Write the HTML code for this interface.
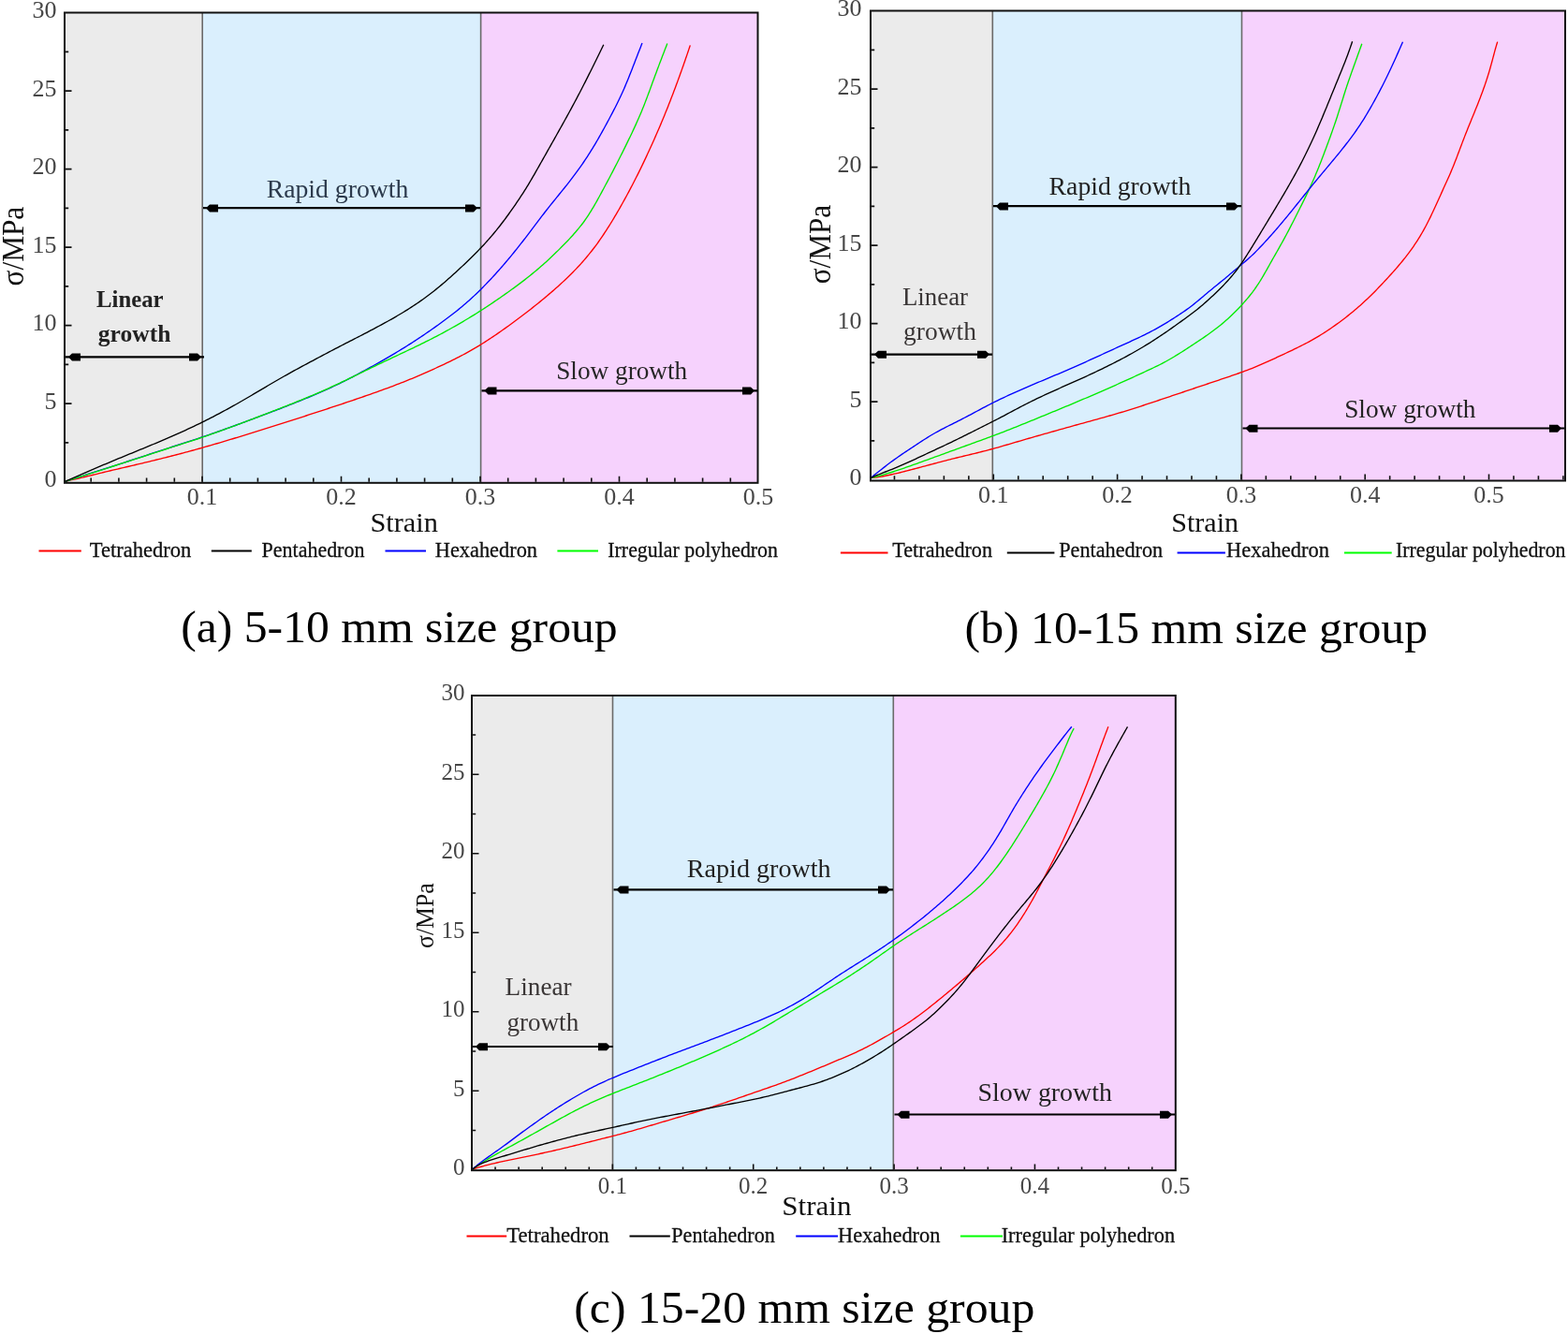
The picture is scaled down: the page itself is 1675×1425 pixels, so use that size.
<!DOCTYPE html>
<html><head><meta charset="utf-8"><title>Stress-strain curves by size group</title>
<style>html,body{margin:0;padding:0;background:#fff;}svg{display:block;}text{font-family:"Liberation Serif", "Times New Roman", serif;}</style>
</head><body>
<svg width="1675" height="1425" viewBox="0 0 1675 1425">
<rect width="1675" height="1425" fill="#fff"/>
<g>
<rect x="69" y="13.5" width="147.2" height="502.3" fill="#ebebeb"/>
<rect x="216.2" y="13.5" width="297.4" height="502.3" fill="#daeffd"/>
<rect x="513.6" y="13.5" width="295.9" height="502.3" fill="#f6d2fd"/>
<line x1="216.2" y1="13.5" x2="216.2" y2="515.8" stroke="#6a6a6a" stroke-width="1.6"/>
<line x1="513.6" y1="13.5" x2="513.6" y2="515.8" stroke="#6a6a6a" stroke-width="1.6"/>
<path d="M97.2,514.8v-4.2M126.9,514.8v-4.2M156.6,514.8v-4.2M186.3,514.8v-4.2M216,514.8v-6M245.7,514.8v-4.2M275.4,514.8v-4.2M305.1,514.8v-4.2M334.8,514.8v-4.2M364.5,514.8v-6M394.2,514.8v-4.2M423.9,514.8v-4.2M453.6,514.8v-4.2M483.3,514.8v-4.2M513,514.8v-6M542.7,514.8v-4.2M572.4,514.8v-4.2M602.1,514.8v-4.2M631.8,514.8v-4.2M661.5,514.8v-6M691.2,514.8v-4.2M720.9,514.8v-4.2M750.6,514.8v-4.2M780.3,514.8v-4.2M70,472.85h3.2M70,431.1h6.5M70,389.35h3.2M70,347.6h6.5M70,305.85h3.2M70,264.1h6.5M70,222.35h3.2M70,180.6h6.5M70,138.85h3.2M70,97.1h6.5M70,55.35h3.2" stroke="#111" stroke-width="1.6" fill="none"/>
<path d="M69.5,514.3L71.94,513.76L74.37,513.21L76.81,512.66L79.25,512.1L81.68,511.54L84.11,510.98L86.54,510.41L88.97,509.83L91.4,509.25L93.83,508.66L96.26,508.07L98.68,507.48L101.11,506.88L103.54,506.29L105.96,505.71L108.39,505.12L110.82,504.53L113.25,503.95L115.68,503.36L118.1,502.78L120.53,502.2L122.96,501.62L125.39,501.04L127.83,500.48L130.26,499.91L132.69,499.35L135.12,498.78L137.56,498.22L139.99,497.65L142.42,497.08L144.85,496.51L147.28,495.94L149.71,495.36L152.14,494.79L154.57,494.21L157,493.63L159.43,493.04L161.86,492.45L164.28,491.86L166.71,491.26L169.13,490.66L171.56,490.06L173.98,489.45L176.4,488.84L178.82,488.23L181.24,487.61L183.66,486.99L186.08,486.37L188.5,485.74L190.92,485.12L193.33,484.48L195.75,483.85L198.16,483.2L200.57,482.56L202.98,481.9L205.39,481.24L207.8,480.58L210.21,479.91L212.61,479.24L215.02,478.56L217.42,477.89L219.83,477.2L222.23,476.51L224.63,475.82L227.03,475.13L229.42,474.43L231.82,473.73L234.22,473.03L236.61,472.32L239.01,471.61L241.4,470.89L243.79,470.17L246.18,469.45L248.57,468.73L250.96,468L253.35,467.28L255.74,466.55L258.13,465.82L260.52,465.09L262.91,464.36L265.29,463.62L267.68,462.89L270.07,462.15L272.45,461.41L274.84,460.66L277.22,459.92L279.6,459.17L281.99,458.43L284.37,457.68L286.75,456.92L289.13,456.17L291.51,455.42L293.9,454.66L296.28,453.91L298.66,453.15L301.04,452.39L303.42,451.63L305.79,450.88L308.17,450.12L310.55,449.35L312.93,448.59L315.31,447.83L317.69,447.07L320.07,446.3L322.44,445.54L324.82,444.77L327.2,444L329.57,443.23L331.95,442.46L334.32,441.69L336.7,440.92L339.07,440.14L341.45,439.37L343.82,438.59L346.19,437.81L348.57,437.03L350.94,436.25L353.31,435.46L355.68,434.68L358.05,433.89L360.42,433.1L362.79,432.32L365.16,431.53L367.53,430.74L369.9,429.94L372.27,429.15L374.63,428.35L377,427.55L379.37,426.75L381.73,425.94L384.09,425.13L386.45,424.32L388.81,423.5L391.17,422.68L393.53,421.86L395.88,421.03L398.24,420.19L400.59,419.36L402.95,418.52L405.3,417.68L407.65,416.83L410,415.98L412.34,415.12L414.69,414.26L417.03,413.39L419.37,412.51L421.7,411.63L424.03,410.73L426.36,409.83L428.69,408.93L431.01,408.01L433.33,407.09L435.65,406.15L437.97,405.21L440.28,404.27L442.59,403.31L444.89,402.35L447.19,401.38L449.49,400.4L451.78,399.4L454.07,398.4L456.35,397.39L458.63,396.37L460.91,395.34L463.18,394.31L465.45,393.26L467.72,392.21L469.98,391.16L472.24,390.1L474.5,389.03L476.76,387.96L479.01,386.88L481.25,385.78L483.5,384.68L485.73,383.56L487.96,382.43L490.18,381.29L492.39,380.14L494.61,378.98L496.81,377.81L499.01,376.62L501.2,375.42L503.38,374.2L505.55,372.96L507.7,371.7L509.84,370.42L511.98,369.12L514.1,367.8L516.21,366.47L518.32,365.12L520.41,363.76L522.5,362.39L524.59,361.01L526.66,359.62L528.73,358.23L530.8,356.82L532.86,355.41L534.91,353.98L536.95,352.55L538.99,351.1L541.02,349.65L543.05,348.19L545.07,346.72L547.09,345.24L549.1,343.76L551.1,342.27L553.11,340.78L555.1,339.28L557.1,337.78L559.09,336.27L561.07,334.75L563.06,333.23L565.03,331.7L567,330.17L568.97,328.63L570.93,327.08L572.88,325.52L574.83,323.95L576.77,322.38L578.7,320.8L580.62,319.21L582.54,317.61L584.45,316L586.36,314.39L588.26,312.76L590.15,311.13L592.04,309.49L593.92,307.84L595.78,306.17L597.64,304.5L599.48,302.82L601.31,301.12L603.12,299.41L604.93,297.69L606.73,295.96L608.52,294.21L610.3,292.45L612.07,290.68L613.82,288.89L615.55,287.1L617.27,285.28L618.97,283.45L620.65,281.61L622.3,279.75L623.95,277.87L625.58,275.97L627.19,274.06L628.78,272.13L630.36,270.19L631.92,268.23L633.46,266.27L634.97,264.28L636.47,262.29L637.94,260.28L639.4,258.25L640.84,256.21L642.26,254.15L643.66,252.08L645.05,250L646.43,247.92L647.8,245.83L649.15,243.73L650.49,241.62L651.81,239.5L653.12,237.38L654.42,235.24L655.7,233.1L656.98,230.95L658.25,228.8L659.51,226.64L660.76,224.48L662.01,222.32L663.24,220.15L664.47,217.97L665.69,215.79L666.9,213.6L668.1,211.41L669.3,209.22L670.49,207.02L671.67,204.83L672.84,202.62L674.01,200.41L675.17,198.2L676.32,195.98L677.47,193.76L678.6,191.54L679.74,189.31L680.86,187.08L681.97,184.85L683.08,182.61L684.18,180.37L685.27,178.12L686.36,175.87L687.44,173.62L688.51,171.36L689.58,169.11L690.64,166.84L691.7,164.58L692.75,162.32L693.79,160.05L694.83,157.78L695.86,155.5L696.89,153.22L697.91,150.94L698.92,148.66L699.93,146.38L700.94,144.09L701.94,141.8L702.93,139.51L703.92,137.22L704.9,134.92L705.88,132.62L706.85,130.32L707.81,128.01L708.77,125.71L709.71,123.4L710.66,121.08L711.59,118.77L712.52,116.45L713.44,114.13L714.36,111.8L715.27,109.48L716.18,107.15L717.08,104.83L717.98,102.5L718.88,100.16L719.77,97.83L720.65,95.49L721.53,93.15L722.4,90.81L723.27,88.47L724.13,86.13L724.99,83.78L725.84,81.43L726.69,79.09L727.53,76.73L728.37,74.38L729.2,72.03L730.03,69.67L730.86,67.31L731.68,64.96L732.49,62.59L733.31,60.23L734.11,57.87L734.92,55.5L735.72,53.14L736.51,50.77L737.3,48.4" stroke="#ff0000" stroke-width="1.35" fill="none" stroke-linejoin="round"/>
<path d="M69.5,514.3L71.88,513.55L74.26,512.8L76.63,512.05L79.01,511.29L81.39,510.54L83.77,509.78L86.14,509.02L88.52,508.27L90.89,507.5L93.27,506.74L95.64,505.98L98.02,505.21L100.39,504.45L102.76,503.69L105.14,502.93L107.51,502.16L109.89,501.4L112.26,500.64L114.64,499.88L117.01,499.12L119.39,498.36L121.76,497.59L124.14,496.83L126.51,496.07L128.89,495.31L131.26,494.54L133.63,493.78L136.01,493.01L138.38,492.25L140.75,491.48L143.12,490.71L145.5,489.93L147.87,489.15L150.23,488.37L152.6,487.59L154.97,486.81L157.34,486.03L159.71,485.25L162.08,484.47L164.45,483.69L166.82,482.92L169.19,482.14L171.56,481.36L173.93,480.58L176.3,479.81L178.67,479.04L181.04,478.27L183.42,477.51L185.79,476.75L188.17,476L190.55,475.24L192.92,474.49L195.3,473.73L197.68,472.97L200.05,472.2L202.42,471.43L204.79,470.65L207.16,469.87L209.52,469.08L211.89,468.3L214.26,467.51L216.62,466.71L218.98,465.91L221.34,465.11L223.7,464.3L226.06,463.48L228.41,462.67L230.77,461.84L233.12,461.01L235.47,460.18L237.82,459.34L240.17,458.5L242.51,457.65L244.86,456.81L247.2,455.96L249.55,455.1L251.89,454.25L254.23,453.39L256.57,452.53L258.91,451.67L261.25,450.81L263.59,449.94L265.93,449.08L268.27,448.21L270.61,447.34L272.95,446.48L275.29,445.6L277.62,444.73L279.96,443.86L282.29,442.98L284.63,442.1L286.96,441.22L289.29,440.33L291.62,439.44L293.95,438.55L296.28,437.65L298.6,436.75L300.93,435.85L303.25,434.94L305.57,434.04L307.89,433.13L310.22,432.22L312.54,431.3L314.86,430.39L317.18,429.47L319.5,428.54L321.81,427.62L324.13,426.68L326.44,425.74L328.74,424.79L331.05,423.84L333.35,422.88L335.64,421.91L337.93,420.93L340.22,419.93L342.5,418.94L344.79,417.93L347.06,416.91L349.34,415.88L351.61,414.85L353.88,413.8L356.14,412.75L358.39,411.69L360.65,410.62L362.9,409.54L365.14,408.45L367.37,407.35L369.6,406.24L371.83,405.11L374.04,403.97L376.26,402.81L378.46,401.65L380.67,400.48L382.87,399.31L385.07,398.13L387.26,396.95L389.46,395.76L391.65,394.57L393.84,393.38L396.03,392.18L398.21,390.97L400.39,389.76L402.56,388.54L404.74,387.31L406.91,386.08L409.07,384.84L411.23,383.6L413.39,382.35L415.55,381.1L417.7,379.84L419.85,378.58L422,377.31L424.14,376.03L426.28,374.74L428.41,373.44L430.53,372.14L432.65,370.82L434.76,369.5L436.87,368.16L438.97,366.82L441.06,365.46L443.16,364.1L445.24,362.74L447.32,361.36L449.4,359.98L451.47,358.59L453.53,357.19L455.6,355.79L457.65,354.38L459.71,352.96L461.75,351.53L463.79,350.1L465.83,348.66L467.86,347.21L469.88,345.75L471.9,344.28L473.9,342.8L475.91,341.32L477.91,339.82L479.9,338.32L481.89,336.81L483.86,335.29L485.83,333.75L487.79,332.2L489.73,330.64L491.65,329.06L493.57,327.46L495.47,325.85L497.36,324.22L499.24,322.58L501.11,320.92L502.96,319.25L504.8,317.57L506.63,315.87L508.44,314.17L510.24,312.44L512.03,310.7L513.8,308.94L515.56,307.18L517.31,305.39L519.04,303.6L520.77,301.8L522.49,299.99L524.2,298.18L525.9,296.35L527.59,294.52L529.27,292.68L530.94,290.82L532.6,288.96L534.25,287.09L535.9,285.22L537.53,283.33L539.16,281.44L540.78,279.55L542.39,277.64L543.99,275.73L545.58,273.81L547.16,271.88L548.74,269.95L550.3,268.01L551.87,266.06L553.42,264.11L554.97,262.16L556.52,260.2L558.06,258.24L559.59,256.27L561.11,254.3L562.62,252.31L564.13,250.33L565.64,248.34L567.14,246.35L568.64,244.36L570.15,242.37L571.65,240.38L573.17,238.4L574.68,236.42L576.19,234.43L577.7,232.45L579.21,230.46L580.73,228.48L582.25,226.5L583.78,224.53L585.31,222.57L586.86,220.61L588.42,218.66L589.98,216.72L591.55,214.79L593.13,212.85L594.7,210.92L596.27,208.98L597.84,207.04L599.4,205.09L600.97,203.16L602.54,201.22L604.11,199.27L605.67,197.33L607.21,195.37L608.75,193.41L610.27,191.43L611.77,189.44L613.27,187.45L614.76,185.45L616.24,183.44L617.7,181.42L619.16,179.39L620.6,177.35L622.02,175.3L623.42,173.25L624.82,171.18L626.19,169.1L627.56,167.01L628.91,164.92L630.25,162.81L631.58,160.7L632.9,158.58L634.2,156.45L635.49,154.32L636.76,152.18L638.02,150.02L639.26,147.86L640.49,145.69L641.72,143.52L642.93,141.34L644.15,139.16L645.35,136.98L646.55,134.79L647.74,132.6L648.92,130.4L650.1,128.2L651.27,126L652.43,123.79L653.59,121.59L654.75,119.38L655.91,117.17L657.05,114.95L658.18,112.73L659.3,110.5L660.39,108.26L661.47,106.01L662.54,103.76L663.6,101.5L664.64,99.23L665.67,96.96L666.68,94.68L667.67,92.39L668.64,90.09L669.6,87.79L670.54,85.48L671.48,83.17L672.41,80.85L673.33,78.54L674.25,76.22L675.16,73.9L676.06,71.57L676.96,69.24L677.86,66.92L678.75,64.59L679.66,62.26L680.56,59.94L681.47,57.62L682.37,55.29L683.28,52.97L684.18,50.65L685.09,48.32L686,46" stroke="#0000ff" stroke-width="1.35" fill="none" stroke-linejoin="round"/>
<path d="M69.5,514.3L71.88,513.57L74.27,512.83L76.65,512.09L79.03,511.35L81.41,510.61L83.79,509.86L86.17,509.11L88.55,508.36L90.93,507.61L93.31,506.85L95.68,506.1L98.06,505.34L100.43,504.58L102.81,503.82L105.19,503.06L107.56,502.3L109.94,501.55L112.32,500.79L114.69,500.03L117.07,499.27L119.44,498.51L121.82,497.75L124.19,496.99L126.57,496.23L128.95,495.47L131.32,494.71L133.7,493.95L136.07,493.18L138.44,492.42L140.82,491.65L143.19,490.88L145.56,490.11L147.93,489.33L150.3,488.55L152.67,487.77L155.04,486.99L157.41,486.21L159.78,485.43L162.15,484.66L164.52,483.88L166.89,483.1L169.26,482.33L171.63,481.55L174,480.78L176.38,480.01L178.75,479.24L181.12,478.48L183.5,477.72L185.88,476.96L188.26,476.21L190.63,475.46L193.01,474.71L195.39,473.96L197.77,473.19L200.14,472.42L202.51,471.65L204.88,470.86L207.24,470.08L209.61,469.29L211.98,468.5L214.34,467.7L216.7,466.9L219.06,466.09L221.42,465.28L223.78,464.46L226.13,463.64L228.48,462.81L230.83,461.98L233.18,461.14L235.53,460.3L237.87,459.45L240.22,458.59L242.56,457.74L244.9,456.87L247.24,456.01L249.58,455.14L251.92,454.27L254.26,453.4L256.59,452.53L258.93,451.66L261.27,450.78L263.6,449.91L265.94,449.03L268.27,448.15L270.6,447.27L272.94,446.38L275.27,445.5L277.6,444.61L279.93,443.72L282.26,442.83L284.59,441.93L286.92,441.04L289.24,440.14L291.57,439.24L293.89,438.33L296.22,437.42L298.54,436.51L300.86,435.6L303.18,434.68L305.5,433.77L307.82,432.85L310.14,431.93L312.45,431.01L314.77,430.08L317.09,429.15L319.4,428.22L321.71,427.28L324.02,426.34L326.33,425.39L328.64,424.44L330.94,423.48L333.24,422.52L335.53,421.54L337.82,420.56L340.11,419.57L342.4,418.57L344.68,417.57L346.96,416.55L349.24,415.53L351.51,414.51L353.78,413.47L356.05,412.43L358.32,411.39L360.58,410.34L362.84,409.29L365.09,408.22L367.34,407.15L369.59,406.06L371.83,404.97L374.07,403.88L376.32,402.78L378.56,401.68L380.8,400.59L383.04,399.5L385.29,398.41L387.53,397.32L389.77,396.23L392.01,395.14L394.26,394.04L396.5,392.95L398.74,391.86L400.99,390.78L403.24,389.69L405.48,388.62L407.74,387.54L409.99,386.47L412.24,385.4L414.49,384.33L416.75,383.27L419,382.2L421.26,381.13L423.51,380.07L425.77,379L428.02,377.93L430.28,376.87L432.54,375.8L434.79,374.74L437.05,373.68L439.3,372.61L441.56,371.54L443.81,370.46L446.05,369.38L448.29,368.28L450.53,367.18L452.77,366.08L455,364.97L457.23,363.85L459.46,362.73L461.68,361.6L463.9,360.46L466.12,359.31L468.33,358.15L470.53,356.98L472.73,355.81L474.92,354.62L477.11,353.42L479.29,352.22L481.47,351L483.65,349.78L485.82,348.55L487.99,347.32L490.15,346.07L492.31,344.82L494.46,343.56L496.6,342.29L498.75,341.01L500.88,339.72L503.01,338.43L505.14,337.12L507.26,335.81L509.37,334.48L511.48,333.15L513.58,331.8L515.68,330.45L517.77,329.09L519.85,327.72L521.93,326.35L524.01,324.97L526.08,323.58L528.15,322.18L530.21,320.78L532.27,319.37L534.32,317.95L536.37,316.53L538.41,315.09L540.45,313.65L542.48,312.21L544.51,310.76L546.54,309.3L548.56,307.84L550.58,306.37L552.59,304.89L554.59,303.4L556.58,301.9L558.57,300.39L560.54,298.87L562.5,297.33L564.45,295.78L566.4,294.22L568.34,292.64L570.27,291.06L572.19,289.47L574.1,287.86L575.99,286.24L577.88,284.61L579.75,282.96L581.61,281.31L583.46,279.64L585.3,277.95L587.13,276.25L588.95,274.54L590.76,272.82L592.56,271.09L594.35,269.35L596.13,267.61L597.9,265.86L599.67,264.09L601.43,262.33L603.18,260.54L604.92,258.75L606.65,256.95L608.35,255.13L610.04,253.29L611.71,251.44L613.35,249.57L614.99,247.69L616.62,245.79L618.22,243.88L619.81,241.94L621.36,239.98L622.88,238.01L624.35,236.01L625.79,233.98L627.19,231.92L628.56,229.83L629.9,227.73L631.22,225.6L632.53,223.47L633.81,221.33L635.08,219.19L636.32,217.03L637.55,214.85L638.75,212.67L639.95,210.48L641.13,208.28L642.32,206.08L643.5,203.89L644.69,201.7L645.88,199.5L647.06,197.3L648.23,195.1L649.41,192.9L650.57,190.7L651.74,188.49L652.9,186.28L654.05,184.07L655.2,181.86L656.35,179.65L657.49,177.43L658.63,175.21L659.77,172.99L660.9,170.77L662.03,168.54L663.15,166.31L664.27,164.08L665.38,161.85L666.49,159.62L667.6,157.38L668.7,155.15L669.79,152.9L670.88,150.66L671.97,148.41L673.05,146.17L674.13,143.92L675.21,141.67L676.28,139.41L677.34,137.15L678.38,134.89L679.41,132.62L680.43,130.34L681.44,128.06L682.44,125.78L683.43,123.49L684.4,121.19L685.37,118.89L686.32,116.58L687.26,114.27L688.18,111.96L689.08,109.63L689.98,107.3L690.86,104.97L691.74,102.63L692.61,100.3L693.48,97.96L694.35,95.62L695.21,93.28L696.06,90.94L696.91,88.59L697.76,86.25L698.62,83.9L699.49,81.57L700.36,79.23L701.23,76.89L702.1,74.55L702.98,72.22L703.85,69.88L704.74,67.55L705.62,65.22L706.51,62.89L707.4,60.56L708.29,58.23L709.19,55.9L710.09,53.57L710.99,51.25L711.89,48.92L712.8,46.6" stroke="#00ec00" stroke-width="1.35" fill="none" stroke-linejoin="round"/>
<path d="M69.5,514.3L71.79,513.3L74.08,512.3L76.37,511.3L78.66,510.3L80.95,509.31L83.24,508.31L85.53,507.32L87.82,506.33L90.12,505.34L92.41,504.35L94.7,503.36L97,502.37L99.29,501.38L101.59,500.4L103.89,499.42L106.18,498.44L108.48,497.47L110.78,496.49L113.08,495.52L115.39,494.55L117.69,493.58L119.99,492.62L122.3,491.66L124.6,490.69L126.91,489.74L129.22,488.78L131.53,487.83L133.84,486.88L136.15,485.93L138.46,484.98L140.77,484.03L143.08,483.08L145.39,482.13L147.7,481.18L150.01,480.23L152.32,479.28L154.63,478.33L156.94,477.38L159.25,476.43L161.55,475.47L163.86,474.5L166.16,473.54L168.46,472.57L170.77,471.6L173.07,470.63L175.37,469.65L177.66,468.67L179.95,467.67L182.24,466.68L184.53,465.67L186.82,464.66L189.1,463.65L191.38,462.63L193.66,461.6L195.93,460.57L198.2,459.53L200.46,458.48L202.73,457.42L204.99,456.35L207.24,455.28L209.49,454.2L211.74,453.11L213.99,452.02L216.23,450.91L218.47,449.8L220.7,448.68L222.93,447.56L225.15,446.42L227.37,445.28L229.59,444.13L231.81,442.97L234.02,441.81L236.22,440.63L238.43,439.45L240.62,438.27L242.82,437.08L245.01,435.88L247.2,434.67L249.38,433.45L251.55,432.23L253.72,430.99L255.89,429.75L258.05,428.5L260.21,427.25L262.37,425.99L264.53,424.73L266.69,423.47L268.84,422.21L271,420.95L273.16,419.69L275.31,418.42L277.46,417.15L279.61,415.87L281.75,414.6L283.9,413.32L286.05,412.04L288.19,410.77L290.35,409.5L292.5,408.23L294.66,406.98L296.83,405.74L298.99,404.5L301.16,403.26L303.34,402.03L305.52,400.81L307.69,399.58L309.88,398.37L312.06,397.15L314.24,395.94L316.43,394.74L318.62,393.54L320.82,392.34L323.01,391.16L325.21,389.97L327.42,388.8L329.62,387.62L331.83,386.45L334.04,385.28L336.24,384.11L338.45,382.94L340.66,381.77L342.86,380.6L345.07,379.43L347.28,378.26L349.49,377.1L351.69,375.93L353.91,374.77L356.12,373.61L358.33,372.45L360.55,371.3L362.76,370.15L364.98,369L367.2,367.85L369.42,366.71L371.64,365.56L373.86,364.42L376.08,363.28L378.31,362.14L380.53,361.01L382.76,359.87L384.98,358.73L387.2,357.59L389.42,356.44L391.63,355.28L393.85,354.13L396.06,352.97L398.27,351.81L400.48,350.64L402.68,349.47L404.88,348.28L407.08,347.09L409.27,345.9L411.46,344.7L413.65,343.49L415.83,342.27L418.01,341.04L420.17,339.8L422.34,338.55L424.49,337.29L426.65,336.03L428.8,334.75L430.94,333.46L433.07,332.15L435.19,330.84L437.29,329.5L439.4,328.15L441.49,326.78L443.57,325.4L445.65,324.01L447.71,322.6L449.76,321.17L451.8,319.73L453.82,318.27L455.83,316.79L457.83,315.29L459.82,313.77L461.79,312.24L463.76,310.69L465.71,309.13L467.65,307.56L469.58,305.98L471.5,304.39L473.41,302.77L475.3,301.14L477.19,299.5L479.06,297.85L480.93,296.19L482.79,294.53L484.65,292.86L486.5,291.18L488.34,289.49L490.17,287.79L492,286.09L493.82,284.38L495.63,282.66L497.44,280.93L499.23,279.2L501.03,277.46L502.82,275.72L504.6,273.97L506.38,272.21L508.14,270.44L509.89,268.66L511.63,266.87L513.36,265.06L515.08,263.25L516.79,261.43L518.48,259.59L520.16,257.74L521.82,255.88L523.46,254L525.09,252.1L526.71,250.2L528.31,248.28L529.9,246.35L531.47,244.41L533.03,242.46L534.57,240.5L536.1,238.52L537.61,236.53L539.11,234.53L540.6,232.52L542.07,230.51L543.54,228.48L544.99,226.46L546.44,224.42L547.87,222.37L549.3,220.32L550.71,218.26L552.12,216.19L553.51,214.12L554.9,212.04L556.27,209.96L557.64,207.87L559,205.77L560.35,203.67L561.68,201.56L563,199.44L564.3,197.31L565.59,195.16L566.86,193.01L568.12,190.86L569.38,188.7L570.63,186.54L571.87,184.37L573.11,182.2L574.34,180.03L575.57,177.85L576.79,175.68L578.02,173.5L579.25,171.33L580.48,169.15L581.71,166.98L582.94,164.8L584.17,162.63L585.4,160.45L586.62,158.28L587.85,156.1L589.08,153.93L590.3,151.75L591.53,149.57L592.75,147.4L593.98,145.22L595.2,143.04L596.42,140.87L597.65,138.69L598.86,136.51L600.08,134.33L601.3,132.14L602.51,129.96L603.72,127.77L604.93,125.59L606.13,123.4L607.34,121.21L608.54,119.02L609.74,116.83L610.93,114.63L612.11,112.44L613.29,110.23L614.47,108.03L615.64,105.82L616.8,103.61L617.96,101.4L619.12,99.19L620.27,96.97L621.42,94.75L622.57,92.53L623.7,90.31L624.84,88.08L625.96,85.86L627.09,83.63L628.21,81.39L629.33,79.16L630.45,76.93L631.57,74.69L632.68,72.46L633.79,70.22L634.9,67.98L636,65.74L637.11,63.5L638.21,61.26L639.32,59.02L640.42,56.78L641.51,54.53L642.61,52.29L643.71,50.05L644.8,47.8" stroke="#000000" stroke-width="1.35" fill="none" stroke-linejoin="round"/>
<rect x="69" y="13.5" width="740.5" height="502.3" fill="none" stroke="#111" stroke-width="2"/>
<text x="60.5" y="520.1" font-size="26" text-anchor="end" font-weight="normal" fill="#474747" >0</text>
<text x="60.5" y="436.6" font-size="26" text-anchor="end" font-weight="normal" fill="#474747" >5</text>
<text x="60.5" y="353.1" font-size="26" text-anchor="end" font-weight="normal" fill="#474747" >10</text>
<text x="60.5" y="269.6" font-size="26" text-anchor="end" font-weight="normal" fill="#474747" >15</text>
<text x="60.5" y="186.1" font-size="26" text-anchor="end" font-weight="normal" fill="#474747" >20</text>
<text x="60.5" y="102.6" font-size="26" text-anchor="end" font-weight="normal" fill="#474747" >25</text>
<text x="60.5" y="19.1" font-size="26" text-anchor="end" font-weight="normal" fill="#474747" >30</text>
<text x="216" y="538.5" font-size="26" text-anchor="middle" font-weight="normal" fill="#474747" >0.1</text>
<text x="364.5" y="538.5" font-size="26" text-anchor="middle" font-weight="normal" fill="#474747" >0.2</text>
<text x="513" y="538.5" font-size="26" text-anchor="middle" font-weight="normal" fill="#474747" >0.3</text>
<text x="661.5" y="538.5" font-size="26" text-anchor="middle" font-weight="normal" fill="#474747" >0.4</text>
<text x="810" y="538.5" font-size="26" text-anchor="middle" font-weight="normal" fill="#474747" >0.5</text>
<text x="395.4" y="568.1" font-size="29.5" text-anchor="start" font-weight="normal" fill="#111" textLength="72.5" lengthAdjust="spacingAndGlyphs">Strain</text>
<text transform="translate(25,305.4) rotate(-90)" font-size="33" fill="#111" textLength="84.6" lengthAdjust="spacingAndGlyphs">σ/MPa</text>
<text x="103" y="328.4" font-size="25" text-anchor="start" font-weight="bold" fill="#222" textLength="71.6" lengthAdjust="spacingAndGlyphs">Linear</text>
<text x="104.8" y="365.2" font-size="25" text-anchor="start" font-weight="bold" fill="#222" textLength="77.6" lengthAdjust="spacingAndGlyphs">growth</text>
<text x="284.7" y="211.4" font-size="28" text-anchor="start" font-weight="normal" fill="#2c3a4c" textLength="151.7" lengthAdjust="spacingAndGlyphs">Rapid growth</text>
<text x="594.2" y="405" font-size="28" text-anchor="start" font-weight="normal" fill="#262626" textLength="140" lengthAdjust="spacingAndGlyphs">Slow growth</text>
<line x1="70" y1="381.3" x2="218" y2="381.3" stroke="#000" stroke-width="2.2"/>
<polygon points="73,381.3 77,377.5 86,377.5 86,385.5 77,385.5" fill="#000"/>
<polygon points="215,381.3 211,377.5 202,377.5 202,385.5 211,385.5" fill="#000"/>
<line x1="217" y1="222.2" x2="513" y2="222.2" stroke="#000" stroke-width="2.2"/>
<polygon points="220,222.2 224,218.4 233,218.4 233,226.4 224,226.4" fill="#000"/>
<polygon points="510,222.2 506,218.4 497,218.4 497,226.4 506,226.4" fill="#000"/>
<line x1="514.5" y1="417.3" x2="809" y2="417.3" stroke="#000" stroke-width="2.2"/>
<polygon points="517.5,417.3 521.5,413.5 530.5,413.5 530.5,421.5 521.5,421.5" fill="#000"/>
<polygon points="806,417.3 802,413.5 793,413.5 793,421.5 802,421.5" fill="#000"/>
<line x1="41.5" y1="588.5" x2="86.8" y2="588.5" stroke="#ff0000" stroke-width="2.2"/>
<text x="95.7" y="595.1" font-size="23" text-anchor="start" font-weight="normal" fill="#111" textLength="108.6" lengthAdjust="spacingAndGlyphs" stroke="#111" stroke-width="0.3">Tetrahedron</text>
<line x1="225.8" y1="588.5" x2="268.8" y2="588.5" stroke="#000000" stroke-width="2.2"/>
<text x="279.6" y="595.1" font-size="23" text-anchor="start" font-weight="normal" fill="#111" textLength="109.8" lengthAdjust="spacingAndGlyphs" stroke="#111" stroke-width="0.3">Pentahedron</text>
<line x1="411.5" y1="588.5" x2="455" y2="588.5" stroke="#0000ff" stroke-width="2.2"/>
<text x="464.8" y="595.1" font-size="23" text-anchor="start" font-weight="normal" fill="#111" textLength="109.2" lengthAdjust="spacingAndGlyphs" stroke="#111" stroke-width="0.3">Hexahedron</text>
<line x1="595.4" y1="588.5" x2="639" y2="588.5" stroke="#00ff00" stroke-width="2.2"/>
<text x="649.3" y="595.1" font-size="23" text-anchor="start" font-weight="normal" fill="#111" textLength="181.7" lengthAdjust="spacingAndGlyphs" stroke="#111" stroke-width="0.3">Irregular polyhedron</text>
<text x="193.2" y="686.1" font-size="48" text-anchor="start" font-weight="normal" fill="#000" textLength="466.5" lengthAdjust="spacingAndGlyphs">(a) 5-10 mm size group</text>
</g>
<g>
<rect x="930" y="11.5" width="130.3" height="502" fill="#ebebeb"/>
<rect x="1060.3" y="11.5" width="266.2" height="502" fill="#daeffd"/>
<rect x="1326.5" y="11.5" width="345.5" height="502" fill="#f6d2fd"/>
<line x1="1060.3" y1="11.5" x2="1060.3" y2="513.5" stroke="#6a6a6a" stroke-width="1.6"/>
<line x1="1326.5" y1="11.5" x2="1326.5" y2="513.5" stroke="#6a6a6a" stroke-width="1.6"/>
<path d="M955.46,512.5v-4.2M981.92,512.5v-4.2M1008.38,512.5v-4.2M1034.84,512.5v-4.2M1061.3,512.5v-6M1087.76,512.5v-4.2M1114.22,512.5v-4.2M1140.68,512.5v-4.2M1167.14,512.5v-4.2M1193.6,512.5v-6M1220.06,512.5v-4.2M1246.52,512.5v-4.2M1272.98,512.5v-4.2M1299.44,512.5v-4.2M1325.9,512.5v-6M1352.36,512.5v-4.2M1378.82,512.5v-4.2M1405.28,512.5v-4.2M1431.74,512.5v-4.2M1458.2,512.5v-6M1484.66,512.5v-4.2M1511.12,512.5v-4.2M1537.58,512.5v-4.2M1564.04,512.5v-4.2M1590.5,512.5v-6M1616.96,512.5v-4.2M1643.42,512.5v-4.2M1669.88,512.5v-4.2M931,470.85h3.2M931,429.1h6.5M931,387.35h3.2M931,345.6h6.5M931,303.85h3.2M931,262.1h6.5M931,220.35h3.2M931,178.6h6.5M931,136.85h3.2M931,95.1h6.5M931,53.35h3.2" stroke="#111" stroke-width="1.6" fill="none"/>
<path d="M929.8,510.7L932.28,510.42L934.76,510.1L937.23,509.76L939.7,509.39L942.16,508.98L944.61,508.53L947.06,508.03L949.5,507.51L951.94,506.98L954.38,506.43L956.81,505.88L959.24,505.31L961.66,504.72L964.09,504.12L966.51,503.51L968.93,502.89L971.34,502.27L973.76,501.65L976.18,501.02L978.59,500.39L981,499.74L983.41,499.1L985.82,498.45L988.23,497.8L990.64,497.16L993.06,496.51L995.47,495.88L997.88,495.24L1000.29,494.6L1002.71,493.96L1005.12,493.32L1007.53,492.69L1009.95,492.06L1012.37,491.44L1014.79,490.83L1017.21,490.22L1019.63,489.62L1022.05,489.02L1024.48,488.43L1026.9,487.83L1029.32,487.24L1031.75,486.65L1034.18,486.06L1036.6,485.48L1039.03,484.89L1041.46,484.31L1043.88,483.72L1046.3,483.12L1048.72,482.52L1051.14,481.9L1053.56,481.29L1055.98,480.66L1058.39,480.02L1060.8,479.38L1063.21,478.71L1065.61,478.03L1068.01,477.34L1070.4,476.65L1072.8,475.95L1075.2,475.25L1077.59,474.55L1079.99,473.84L1082.38,473.14L1084.77,472.43L1087.17,471.73L1089.57,471.03L1091.96,470.34L1094.36,469.64L1096.76,468.95L1099.16,468.27L1101.56,467.58L1103.96,466.89L1106.36,466.21L1108.76,465.52L1111.16,464.84L1113.56,464.16L1115.96,463.47L1118.36,462.79L1120.76,462.11L1123.16,461.43L1125.56,460.76L1127.97,460.08L1130.37,459.4L1132.77,458.72L1135.17,458.05L1137.58,457.37L1139.98,456.7L1142.38,456.03L1144.79,455.36L1147.19,454.69L1149.6,454.02L1152,453.36L1154.41,452.7L1156.82,452.04L1159.22,451.37L1161.63,450.71L1164.03,450.05L1166.44,449.38L1168.84,448.71L1171.25,448.05L1173.66,447.38L1176.06,446.72L1178.47,446.05L1180.87,445.38L1183.27,444.7L1185.67,444.02L1188.07,443.33L1190.47,442.63L1192.86,441.92L1195.25,441.21L1197.65,440.5L1200.04,439.78L1202.42,439.05L1204.81,438.32L1207.19,437.58L1209.57,436.84L1211.95,436.08L1214.33,435.32L1216.71,434.55L1219.08,433.78L1221.45,433L1223.82,432.22L1226.19,431.44L1228.56,430.65L1230.93,429.87L1233.3,429.08L1235.66,428.29L1238.03,427.49L1240.4,426.7L1242.76,425.9L1245.13,425.11L1247.49,424.31L1249.86,423.52L1252.22,422.72L1254.59,421.93L1256.95,421.13L1259.32,420.33L1261.69,419.54L1264.05,418.74L1266.42,417.94L1268.78,417.15L1271.15,416.35L1273.51,415.55L1275.88,414.76L1278.24,413.96L1280.61,413.16L1282.97,412.37L1285.34,411.57L1287.7,410.78L1290.07,409.99L1292.44,409.2L1294.81,408.41L1297.17,407.61L1299.54,406.82L1301.91,406.03L1304.27,405.23L1306.63,404.43L1309,403.63L1311.37,402.83L1313.73,402.03L1316.09,401.23L1318.45,400.42L1320.81,399.59L1323.16,398.76L1325.51,397.91L1327.85,397.05L1330.19,396.19L1332.53,395.31L1334.86,394.42L1337.18,393.51L1339.5,392.58L1341.81,391.63L1344.11,390.66L1346.4,389.68L1348.69,388.68L1350.98,387.68L1353.26,386.66L1355.54,385.65L1357.81,384.61L1360.08,383.57L1362.34,382.52L1364.6,381.47L1366.87,380.41L1369.13,379.36L1371.39,378.31L1373.65,377.25L1375.91,376.19L1378.17,375.13L1380.42,374.05L1382.67,372.97L1384.91,371.87L1387.15,370.76L1389.38,369.65L1391.61,368.52L1393.83,367.38L1396.05,366.23L1398.24,365.05L1400.43,363.85L1402.61,362.63L1404.77,361.38L1406.93,360.12L1409.07,358.84L1411.2,357.54L1413.32,356.22L1415.42,354.89L1417.52,353.52L1419.59,352.14L1421.66,350.73L1423.71,349.31L1425.75,347.87L1427.78,346.42L1429.8,344.96L1431.81,343.48L1433.81,341.98L1435.79,340.46L1437.77,338.93L1439.73,337.39L1441.68,335.83L1443.61,334.26L1445.53,332.67L1447.45,331.06L1449.35,329.44L1451.23,327.8L1453.11,326.15L1454.97,324.49L1456.81,322.81L1458.64,321.11L1460.46,319.4L1462.26,317.67L1464.05,315.93L1465.83,314.18L1467.6,312.42L1469.36,310.65L1471.11,308.87L1472.85,307.08L1474.57,305.28L1476.29,303.47L1478,301.65L1479.7,299.82L1481.39,297.99L1483.08,296.14L1484.75,294.29L1486.42,292.44L1488.08,290.58L1489.74,288.71L1491.39,286.83L1493.02,284.94L1494.64,283.04L1496.24,281.13L1497.82,279.2L1499.39,277.26L1500.94,275.3L1502.49,273.34L1504.02,271.36L1505.53,269.37L1507.01,267.36L1508.47,265.34L1509.91,263.3L1511.3,261.24L1512.68,259.16L1514.04,257.06L1515.37,254.95L1516.68,252.82L1517.96,250.68L1519.23,248.52L1520.46,246.35L1521.68,244.18L1522.86,241.98L1524.02,239.78L1525.16,237.55L1526.28,235.32L1527.38,233.08L1528.48,230.83L1529.56,228.58L1530.64,226.33L1531.7,224.08L1532.74,221.81L1533.78,219.54L1534.81,217.26L1535.83,214.99L1536.86,212.71L1537.89,210.44L1538.92,208.16L1539.95,205.89L1540.97,203.62L1542,201.34L1543.02,199.06L1544.05,196.79L1545.08,194.51L1546.11,192.24L1547.14,189.97L1548.16,187.69L1549.15,185.4L1550.13,183.11L1551.1,180.81L1552.06,178.5L1553,176.19L1553.93,173.87L1554.84,171.55L1555.74,169.22L1556.62,166.88L1557.49,164.55L1558.37,162.21L1559.25,159.87L1560.14,157.54L1561.02,155.21L1561.9,152.87L1562.79,150.54L1563.68,148.21L1564.58,145.88L1565.49,143.56L1566.41,141.23L1567.33,138.92L1568.26,136.6L1569.2,134.29L1570.14,131.97L1571.07,129.66L1572.02,127.35L1572.97,125.04L1573.92,122.74L1574.87,120.43L1575.81,118.12L1576.74,115.8L1577.67,113.48L1578.6,111.17L1579.52,108.85L1580.43,106.52L1581.32,104.19L1582.2,101.86L1583.08,99.52L1583.94,97.18L1584.79,94.83L1585.63,92.48L1586.44,90.12L1587.24,87.76L1588.02,85.39L1588.78,83.01L1589.53,80.63L1590.27,78.24L1590.99,75.85L1591.68,73.46L1592.36,71.05L1593.02,68.65L1593.67,66.24L1594.32,63.83L1594.97,61.42L1595.61,59.01L1596.25,56.59L1596.9,54.18L1597.57,51.78L1598.26,49.38L1598.97,46.99L1599.7,44.6" stroke="#ff0000" stroke-width="1.35" fill="none" stroke-linejoin="round"/>
<path d="M929.8,510.7L932.23,510.12L934.66,509.51L937.08,508.89L939.49,508.25L941.9,507.58L944.31,506.9L946.71,506.19L949.1,505.47L951.49,504.74L953.88,503.99L956.26,503.23L958.63,502.45L961,501.66L963.37,500.85L965.73,500.04L968.1,499.22L970.46,498.4L972.81,497.56L975.17,496.72L977.52,495.87L979.87,495.02L982.22,494.17L984.57,493.32L986.92,492.47L989.27,491.62L991.62,490.77L993.97,489.92L996.32,489.06L998.67,488.21L1001.02,487.36L1003.37,486.51L1005.72,485.65L1008.07,484.8L1010.42,483.94L1012.77,483.09L1015.12,482.24L1017.47,481.38L1019.82,480.53L1022.17,479.67L1024.51,478.81L1026.86,477.96L1029.21,477.1L1031.56,476.25L1033.91,475.39L1036.26,474.54L1038.61,473.68L1040.96,472.82L1043.31,471.97L1045.66,471.12L1048.01,470.27L1050.36,469.42L1052.71,468.57L1055.06,467.71L1057.4,466.85L1059.74,465.98L1062.09,465.1L1064.43,464.22L1066.76,463.33L1069.1,462.44L1071.43,461.55L1073.77,460.65L1076.1,459.74L1078.42,458.83L1080.75,457.91L1083.07,456.99L1085.39,456.06L1087.71,455.12L1090.03,454.18L1092.34,453.24L1094.66,452.3L1096.97,451.35L1099.29,450.41L1101.6,449.47L1103.92,448.52L1106.23,447.58L1108.54,446.63L1110.86,445.68L1113.17,444.73L1115.48,443.78L1117.79,442.82L1120.1,441.87L1122.41,440.92L1124.72,439.97L1127.03,439.01L1129.34,438.06L1131.65,437.1L1133.96,436.15L1136.27,435.19L1138.58,434.23L1140.89,433.27L1143.2,432.3L1145.5,431.34L1147.81,430.37L1150.11,429.4L1152.41,428.43L1154.72,427.45L1157.02,426.48L1159.32,425.5L1161.62,424.52L1163.92,423.54L1166.21,422.55L1168.51,421.56L1170.8,420.57L1173.1,419.58L1175.39,418.58L1177.68,417.58L1179.97,416.58L1182.26,415.58L1184.55,414.57L1186.84,413.56L1189.12,412.55L1191.4,411.53L1193.69,410.5L1195.96,409.48L1198.24,408.45L1200.52,407.42L1202.8,406.38L1205.07,405.35L1207.35,404.31L1209.62,403.28L1211.9,402.24L1214.17,401.2L1216.44,400.16L1218.71,399.11L1220.98,398.06L1223.25,397.01L1225.51,395.95L1227.78,394.89L1230.04,393.83L1232.3,392.76L1234.56,391.69L1236.81,390.59L1239.04,389.48L1241.26,388.33L1243.47,387.16L1245.67,385.97L1247.86,384.76L1250.04,383.52L1252.2,382.27L1254.35,381L1256.48,379.7L1258.6,378.38L1260.72,377.04L1262.83,375.7L1264.94,374.36L1267.04,373.01L1269.14,371.65L1271.24,370.29L1273.32,368.91L1275.41,367.53L1277.49,366.14L1279.57,364.76L1281.65,363.36L1283.72,361.97L1285.79,360.57L1287.85,359.15L1289.9,357.72L1291.94,356.27L1293.96,354.81L1295.98,353.33L1297.99,351.83L1299.98,350.32L1301.94,348.78L1303.89,347.21L1305.81,345.62L1307.71,343.99L1309.6,342.35L1311.46,340.68L1313.31,338.99L1315.13,337.28L1316.94,335.56L1318.73,333.81L1320.5,332.04L1322.25,330.26L1323.98,328.45L1325.69,326.62L1327.37,324.78L1329.04,322.92L1330.69,321.04L1332.32,319.13L1333.92,317.21L1335.49,315.26L1337.02,313.3L1338.53,311.31L1340,309.28L1341.45,307.24L1342.86,305.18L1344.25,303.1L1345.61,301L1346.94,298.89L1348.23,296.75L1349.49,294.59L1350.74,292.42L1351.98,290.24L1353.22,288.07L1354.45,285.9L1355.66,283.71L1356.88,281.53L1358.09,279.34L1359.32,277.16L1360.55,274.99L1361.79,272.82L1363.04,270.65L1364.28,268.48L1365.51,266.31L1366.73,264.13L1367.96,261.95L1369.18,259.76L1370.39,257.58L1371.6,255.39L1372.79,253.19L1373.97,250.99L1375.14,248.78L1376.31,246.57L1377.47,244.35L1378.62,242.14L1379.76,239.91L1380.91,237.69L1382.05,235.47L1383.18,233.24L1384.31,231.01L1385.43,228.77L1386.55,226.54L1387.67,224.3L1388.79,222.07L1389.9,219.83L1391.02,217.59L1392.13,215.35L1393.24,213.11L1394.33,210.86L1395.42,208.61L1396.49,206.36L1397.56,204.1L1398.63,201.83L1399.68,199.57L1400.73,197.3L1401.76,195.02L1402.77,192.74L1403.77,190.44L1404.76,188.15L1405.73,185.84L1406.69,183.54L1407.64,181.22L1408.58,178.91L1409.51,176.59L1410.44,174.26L1411.35,171.94L1412.25,169.61L1413.14,167.27L1414.03,164.93L1414.91,162.59L1415.78,160.25L1416.66,157.91L1417.53,155.57L1418.4,153.22L1419.27,150.88L1420.14,148.53L1420.99,146.18L1421.84,143.83L1422.68,141.48L1423.51,139.12L1424.34,136.76L1425.17,134.4L1425.98,132.04L1426.78,129.67L1427.58,127.3L1428.36,124.93L1429.13,122.55L1429.88,120.17L1430.63,117.78L1431.38,115.4L1432.12,113.01L1432.87,110.62L1433.62,108.24L1434.36,105.85L1435.1,103.46L1435.84,101.07L1436.58,98.69L1437.34,96.31L1438.11,93.93L1438.9,91.56L1439.7,89.19L1440.51,86.82L1441.33,84.46L1442.15,82.1L1442.98,79.74L1443.82,77.39L1444.66,75.03L1445.51,72.68L1446.36,70.33L1447.2,67.98L1448.04,65.62L1448.88,63.27L1449.72,60.91L1450.57,58.56L1451.41,56.21L1452.26,53.86L1453.1,51.5L1453.95,49.15L1454.8,46.8" stroke="#00ec00" stroke-width="1.35" fill="none" stroke-linejoin="round"/>
<path d="M929.8,510.7L931.76,509.16L933.72,507.61L935.68,506.07L937.64,504.53L939.59,502.98L941.55,501.44L943.52,499.9L945.49,498.37L947.46,496.84L949.44,495.32L951.43,493.83L953.44,492.35L955.46,490.88L957.49,489.43L959.53,488L961.58,486.58L963.65,485.18L965.72,483.8L967.79,482.41L969.87,481.03L971.95,479.65L974.03,478.28L976.12,476.91L978.2,475.53L980.27,474.15L982.35,472.77L984.44,471.4L986.53,470.05L988.63,468.7L990.74,467.37L992.86,466.05L994.99,464.76L997.14,463.5L999.31,462.27L1001.5,461.07L1003.69,459.88L1005.89,458.71L1008.1,457.54L1010.31,456.4L1012.54,455.27L1014.77,454.16L1017,453.04L1019.24,451.93L1021.46,450.81L1023.69,449.67L1025.91,448.54L1028.12,447.4L1030.34,446.25L1032.56,445.11L1034.77,443.95L1036.97,442.79L1039.17,441.61L1041.37,440.43L1043.56,439.25L1045.76,438.06L1047.96,436.89L1050.16,435.72L1052.37,434.56L1054.58,433.4L1056.79,432.24L1059.01,431.1L1061.23,429.98L1063.47,428.87L1065.71,427.77L1067.95,426.68L1070.2,425.61L1072.46,424.55L1074.72,423.49L1076.98,422.45L1079.25,421.42L1081.53,420.39L1083.8,419.37L1086.08,418.36L1088.36,417.35L1090.65,416.34L1092.93,415.34L1095.22,414.35L1097.51,413.36L1099.8,412.38L1102.09,411.39L1104.39,410.41L1106.68,409.44L1108.98,408.47L1111.28,407.5L1113.58,406.54L1115.88,405.58L1118.18,404.61L1120.48,403.64L1122.78,402.68L1125.08,401.7L1127.37,400.73L1129.67,399.77L1131.97,398.8L1134.27,397.83L1136.56,396.85L1138.86,395.87L1141.15,394.89L1143.44,393.9L1145.72,392.9L1148.01,391.9L1150.29,390.88L1152.56,389.87L1154.84,388.84L1157.11,387.82L1159.39,386.79L1161.66,385.76L1163.93,384.73L1166.2,383.7L1168.47,382.66L1170.74,381.63L1173,380.58L1175.27,379.54L1177.53,378.5L1179.8,377.45L1182.06,376.41L1184.33,375.36L1186.6,374.32L1188.86,373.29L1191.13,372.26L1193.41,371.23L1195.68,370.2L1197.95,369.17L1200.22,368.14L1202.49,367.11L1204.76,366.07L1207.03,365.03L1209.29,363.97L1211.55,362.92L1213.81,361.87L1216.07,360.81L1218.33,359.74L1220.58,358.67L1222.82,357.57L1225.05,356.46L1227.27,355.33L1229.48,354.18L1231.69,353.01L1233.88,351.83L1236.07,350.62L1238.24,349.4L1240.4,348.16L1242.55,346.89L1244.69,345.6L1246.81,344.3L1248.93,342.98L1251.05,341.66L1253.17,340.34L1255.27,339.01L1257.37,337.66L1259.46,336.29L1261.53,334.91L1263.6,333.51L1265.66,332.1L1267.7,330.66L1269.71,329.2L1271.7,327.7L1273.68,326.17L1275.63,324.62L1277.58,323.06L1279.51,321.48L1281.43,319.89L1283.34,318.28L1285.24,316.66L1287.14,315.05L1289.04,313.44L1290.96,311.85L1292.89,310.26L1294.81,308.68L1296.74,307.1L1298.67,305.52L1300.61,303.94L1302.55,302.37L1304.48,300.8L1306.42,299.23L1308.35,297.65L1310.26,296.05L1312.17,294.44L1314.07,292.82L1315.97,291.21L1317.87,289.6L1319.79,288L1321.7,286.4L1323.62,284.81L1325.53,283.2L1327.44,281.6L1329.35,280L1331.26,278.39L1333.14,276.75L1334.99,275.08L1336.81,273.38L1338.61,271.65L1340.39,269.9L1342.15,268.13L1343.9,266.35L1345.63,264.56L1347.36,262.76L1349.07,260.94L1350.76,259.11L1352.45,257.28L1354.13,255.43L1355.8,253.57L1357.46,251.71L1359.11,249.84L1360.76,247.97L1362.4,246.09L1364.03,244.21L1365.66,242.32L1367.28,240.42L1368.89,238.51L1370.49,236.6L1372.09,234.69L1373.69,232.77L1375.28,230.85L1376.86,228.93L1378.44,226.99L1380.01,225.06L1381.57,223.11L1383.13,221.16L1384.68,219.21L1386.24,217.26L1387.8,215.31L1389.36,213.37L1390.92,211.43L1392.49,209.48L1394.05,207.54L1395.61,205.6L1397.18,203.65L1398.74,201.71L1400.31,199.77L1401.89,197.84L1403.47,195.91L1405.05,193.98L1406.64,192.06L1408.24,190.15L1409.84,188.23L1411.44,186.32L1413.05,184.41L1414.65,182.51L1416.26,180.59L1417.85,178.68L1419.45,176.76L1421.04,174.84L1422.64,172.93L1424.24,171.01L1425.84,169.1L1427.43,167.17L1429.01,165.25L1430.59,163.32L1432.15,161.37L1433.7,159.42L1435.25,157.47L1436.79,155.5L1438.33,153.54L1439.86,151.56L1441.37,149.58L1442.87,147.59L1444.35,145.58L1445.82,143.57L1447.27,141.54L1448.7,139.5L1450.12,137.45L1451.52,135.38L1452.91,133.31L1454.28,131.22L1455.63,129.12L1456.96,127.02L1458.27,124.89L1459.55,122.76L1460.83,120.61L1462.09,118.46L1463.34,116.3L1464.58,114.13L1465.81,111.97L1467.03,109.79L1468.24,107.61L1469.44,105.42L1470.63,103.23L1471.81,101.03L1472.98,98.83L1474.14,96.62L1475.3,94.41L1476.44,92.2L1477.58,89.97L1478.7,87.75L1479.81,85.51L1480.91,83.28L1482,81.03L1483.08,78.78L1484.15,76.53L1485.22,74.28L1486.28,72.02L1487.33,69.76L1488.37,67.49L1489.41,65.22L1490.44,62.95L1491.47,60.68L1492.49,58.4L1493.51,56.13L1494.52,53.85L1495.52,51.57L1496.52,49.28L1497.51,46.99L1498.5,44.7" stroke="#0000ff" stroke-width="1.35" fill="none" stroke-linejoin="round"/>
<path d="M929.8,510.7L932.07,509.68L934.36,508.68L936.65,507.7L938.96,506.75L941.27,505.83L943.59,504.92L945.91,504L948.23,503.09L950.55,502.18L952.87,501.26L955.18,500.33L957.49,499.38L959.79,498.41L962.08,497.43L964.36,496.44L966.65,495.43L968.92,494.42L971.2,493.4L973.47,492.37L975.73,491.32L977.99,490.27L980.25,489.22L982.51,488.17L984.77,487.12L987.03,486.07L989.29,485.01L991.55,483.96L993.81,482.9L996.06,481.84L998.32,480.78L1000.58,479.73L1002.84,478.67L1005.1,477.61L1007.35,476.55L1009.61,475.49L1011.86,474.42L1014.11,473.35L1016.36,472.27L1018.6,471.18L1020.84,470.09L1023.08,469L1025.32,467.91L1027.56,466.8L1029.79,465.7L1032.03,464.59L1034.25,463.47L1036.48,462.35L1038.71,461.23L1040.94,460.11L1043.17,459L1045.4,457.88L1047.62,456.76L1049.85,455.64L1052.08,454.52L1054.3,453.4L1056.53,452.27L1058.75,451.14L1060.97,450.01L1063.19,448.87L1065.41,447.73L1067.62,446.59L1069.83,445.44L1072.04,444.28L1074.24,443.11L1076.44,441.93L1078.63,440.75L1080.83,439.57L1083.03,438.39L1085.23,437.23L1087.44,436.07L1089.65,434.91L1091.86,433.76L1094.07,432.62L1096.29,431.48L1098.51,430.35L1100.74,429.23L1102.98,428.13L1105.22,427.03L1107.46,425.95L1109.71,424.88L1111.97,423.81L1114.22,422.75L1116.48,421.7L1118.75,420.65L1121.01,419.61L1123.28,418.57L1125.55,417.54L1127.82,416.52L1130.1,415.51L1132.38,414.5L1134.66,413.49L1136.94,412.48L1139.22,411.48L1141.5,410.47L1143.78,409.45L1146.05,408.43L1148.32,407.41L1150.6,406.39L1152.87,405.36L1155.15,404.34L1157.42,403.31L1159.69,402.28L1161.95,401.24L1164.21,400.19L1166.47,399.14L1168.73,398.07L1170.98,397.01L1173.23,395.93L1175.48,394.85L1177.72,393.77L1179.96,392.68L1182.2,391.58L1184.43,390.47L1186.66,389.35L1188.89,388.23L1191.11,387.1L1193.33,385.96L1195.54,384.81L1197.75,383.66L1199.96,382.49L1202.16,381.32L1204.35,380.13L1206.54,378.94L1208.72,377.73L1210.89,376.51L1213.06,375.28L1215.22,374.03L1217.37,372.77L1219.52,371.51L1221.66,370.23L1223.79,368.94L1225.91,367.63L1228.03,366.31L1230.14,364.98L1232.24,363.64L1234.33,362.28L1236.42,360.91L1238.5,359.54L1240.57,358.16L1242.63,356.76L1244.69,355.35L1246.74,353.93L1248.79,352.51L1250.83,351.08L1252.87,349.65L1254.9,348.2L1256.93,346.75L1258.96,345.3L1260.98,343.84L1263,342.38L1265.02,340.93L1267.04,339.46L1269.05,337.99L1271.06,336.51L1273.04,335L1275.03,333.49L1277,331.96L1278.95,330.42L1280.9,328.85L1282.81,327.26L1284.72,325.65L1286.6,324.02L1288.47,322.37L1290.33,320.71L1292.18,319.03L1294.01,317.35L1295.84,315.65L1297.65,313.94L1299.46,312.21L1301.24,310.48L1303.01,308.72L1304.77,306.96L1306.52,305.18L1308.25,303.38L1309.97,301.57L1311.65,299.74L1313.31,297.88L1314.95,296L1316.56,294.09L1318.14,292.16L1319.7,290.21L1321.22,288.24L1322.7,286.24L1324.16,284.21L1325.59,282.17L1327,280.12L1328.38,278.04L1329.75,275.96L1331.1,273.86L1332.44,271.76L1333.77,269.65L1335.09,267.54L1336.41,265.42L1337.72,263.3L1339.02,261.17L1340.32,259.04L1341.62,256.91L1342.91,254.79L1344.21,252.66L1345.51,250.53L1346.81,248.4L1348.1,246.27L1349.4,244.14L1350.69,242.01L1351.98,239.87L1353.27,237.74L1354.56,235.61L1355.84,233.47L1357.13,231.34L1358.42,229.2L1359.71,227.07L1361,224.93L1362.28,222.8L1363.57,220.66L1364.84,218.52L1366.12,216.38L1367.39,214.24L1368.66,212.09L1369.93,209.94L1371.19,207.79L1372.45,205.64L1373.71,203.49L1374.97,201.34L1376.21,199.18L1377.45,197.01L1378.68,194.85L1379.9,192.67L1381.12,190.5L1382.33,188.32L1383.54,186.14L1384.74,183.95L1385.93,181.76L1387.11,179.56L1388.28,177.36L1389.44,175.16L1390.59,172.94L1391.72,170.73L1392.85,168.5L1393.97,166.28L1395.08,164.04L1396.18,161.8L1397.27,159.56L1398.35,157.31L1399.42,155.06L1400.49,152.81L1401.54,150.55L1402.58,148.28L1403.61,146.01L1404.63,143.74L1405.64,141.46L1406.64,139.18L1407.64,136.89L1408.63,134.6L1409.62,132.32L1410.6,130.02L1411.57,127.73L1412.54,125.43L1413.49,123.13L1414.45,120.82L1415.4,118.52L1416.35,116.22L1417.3,113.91L1418.25,111.61L1419.19,109.3L1420.14,106.99L1421.08,104.68L1422.02,102.37L1422.96,100.06L1423.9,97.76L1424.85,95.45L1425.79,93.14L1426.73,90.83L1427.68,88.53L1428.62,86.22L1429.56,83.91L1430.5,81.6L1431.45,79.3L1432.39,76.99L1433.33,74.68L1434.26,72.36L1435.18,70.05L1436.1,67.73L1437.02,65.41L1437.92,63.09L1438.81,60.76L1439.68,58.42L1440.54,56.08L1441.38,53.74L1442.21,51.39L1443.02,49.03L1443.82,46.67L1444.6,44.3" stroke="#000000" stroke-width="1.35" fill="none" stroke-linejoin="round"/>
<rect x="930" y="11.5" width="742" height="502" fill="none" stroke="#111" stroke-width="2"/>
<text x="920.5" y="518.1" font-size="26" text-anchor="end" font-weight="normal" fill="#474747" >0</text>
<text x="920.5" y="434.6" font-size="26" text-anchor="end" font-weight="normal" fill="#474747" >5</text>
<text x="920.5" y="351.1" font-size="26" text-anchor="end" font-weight="normal" fill="#474747" >10</text>
<text x="920.5" y="267.6" font-size="26" text-anchor="end" font-weight="normal" fill="#474747" >15</text>
<text x="920.5" y="184.1" font-size="26" text-anchor="end" font-weight="normal" fill="#474747" >20</text>
<text x="920.5" y="100.6" font-size="26" text-anchor="end" font-weight="normal" fill="#474747" >25</text>
<text x="920.5" y="17.1" font-size="26" text-anchor="end" font-weight="normal" fill="#474747" >30</text>
<text x="1061.3" y="536.5" font-size="26" text-anchor="middle" font-weight="normal" fill="#474747" >0.1</text>
<text x="1193.6" y="536.5" font-size="26" text-anchor="middle" font-weight="normal" fill="#474747" >0.2</text>
<text x="1325.9" y="536.5" font-size="26" text-anchor="middle" font-weight="normal" fill="#474747" >0.3</text>
<text x="1458.2" y="536.5" font-size="26" text-anchor="middle" font-weight="normal" fill="#474747" >0.4</text>
<text x="1590.5" y="536.5" font-size="26" text-anchor="middle" font-weight="normal" fill="#474747" >0.5</text>
<text x="1251.2" y="568" font-size="29.5" text-anchor="start" font-weight="normal" fill="#111" textLength="72" lengthAdjust="spacingAndGlyphs">Strain</text>
<text transform="translate(887,303.2) rotate(-90)" font-size="33" fill="#111" textLength="84.3" lengthAdjust="spacingAndGlyphs">σ/MPa</text>
<text x="963.9" y="326.4" font-size="26.5" text-anchor="start" font-weight="normal" fill="#3a3636" textLength="70.2" lengthAdjust="spacingAndGlyphs">Linear</text>
<text x="965.1" y="363.4" font-size="26.5" text-anchor="start" font-weight="normal" fill="#3a3636" textLength="77.8" lengthAdjust="spacingAndGlyphs">growth</text>
<text x="1120.6" y="207.6" font-size="28" text-anchor="start" font-weight="normal" fill="#222" textLength="151.7" lengthAdjust="spacingAndGlyphs">Rapid growth</text>
<text x="1436.2" y="446" font-size="28" text-anchor="start" font-weight="normal" fill="#222" textLength="140.3" lengthAdjust="spacingAndGlyphs">Slow growth</text>
<line x1="931" y1="378.6" x2="1060" y2="378.6" stroke="#000" stroke-width="2.2"/>
<polygon points="934,378.6 938,374.8 947,374.8 947,382.8 938,382.8" fill="#000"/>
<polygon points="1057,378.6 1053,374.8 1044,374.8 1044,382.8 1053,382.8" fill="#000"/>
<line x1="1061" y1="220.2" x2="1326" y2="220.2" stroke="#000" stroke-width="2.2"/>
<polygon points="1064,220.2 1068,216.4 1077,216.4 1077,224.4 1068,224.4" fill="#000"/>
<polygon points="1323,220.2 1319,216.4 1310,216.4 1310,224.4 1319,224.4" fill="#000"/>
<line x1="1327.5" y1="457.5" x2="1671" y2="457.5" stroke="#000" stroke-width="2.2"/>
<polygon points="1330.5,457.5 1334.5,453.7 1343.5,453.7 1343.5,461.7 1334.5,461.7" fill="#000"/>
<polygon points="1668,457.5 1664,453.7 1655,453.7 1655,461.7 1664,461.7" fill="#000"/>
<line x1="897.9" y1="590.5" x2="948.5" y2="590.5" stroke="#ff0000" stroke-width="2.2"/>
<text x="953.3" y="595.1" font-size="23" text-anchor="start" font-weight="normal" fill="#111" textLength="106.7" lengthAdjust="spacingAndGlyphs" stroke="#111" stroke-width="0.3">Tetrahedron</text>
<line x1="1075.8" y1="590.5" x2="1126.4" y2="590.5" stroke="#000000" stroke-width="2.2"/>
<text x="1131.2" y="595.1" font-size="23" text-anchor="start" font-weight="normal" fill="#111" textLength="111" lengthAdjust="spacingAndGlyphs" stroke="#111" stroke-width="0.3">Pentahedron</text>
<line x1="1257.6" y1="590.5" x2="1308.9" y2="590.5" stroke="#0000ff" stroke-width="2.2"/>
<text x="1310.1" y="595.1" font-size="23" text-anchor="start" font-weight="normal" fill="#111" textLength="109.9" lengthAdjust="spacingAndGlyphs" stroke="#111" stroke-width="0.3">Hexahedron</text>
<line x1="1436" y1="590.5" x2="1486.7" y2="590.5" stroke="#00ff00" stroke-width="2.2"/>
<text x="1491" y="595.1" font-size="23" text-anchor="start" font-weight="normal" fill="#111" textLength="181.5" lengthAdjust="spacingAndGlyphs" stroke="#111" stroke-width="0.3">Irregular polyhedron</text>
<text x="1030.6" y="686.5" font-size="48" text-anchor="start" font-weight="normal" fill="#000" textLength="494.5" lengthAdjust="spacingAndGlyphs">(b) 10-15 mm size group</text>
</g>
<g>
<rect x="504" y="743" width="150.5" height="507.2" fill="#ebebeb"/>
<rect x="654.5" y="743" width="299.8" height="507.2" fill="#daeffd"/>
<rect x="954.3" y="743" width="301.5" height="507.2" fill="#f6d2fd"/>
<line x1="654.5" y1="743" x2="654.5" y2="1250.2" stroke="#6a6a6a" stroke-width="1.6"/>
<line x1="954.3" y1="743" x2="954.3" y2="1250.2" stroke="#6a6a6a" stroke-width="1.6"/>
<path d="M529.06,1249.2v-2.8M554.12,1249.2v-2.8M579.18,1249.2v-2.8M604.24,1249.2v-2.8M629.3,1249.2v-2.8M654.36,1249.2v-5.7M679.42,1249.2v-2.8M704.48,1249.2v-2.8M729.54,1249.2v-2.8M754.6,1249.2v-2.8M779.66,1249.2v-2.8M804.72,1249.2v-5.7M829.78,1249.2v-2.8M854.84,1249.2v-2.8M879.9,1249.2v-2.8M904.96,1249.2v-2.8M930.02,1249.2v-2.8M955.08,1249.2v-5.7M980.14,1249.2v-2.8M1005.2,1249.2v-2.8M1030.26,1249.2v-2.8M1055.32,1249.2v-2.8M1080.38,1249.2v-2.8M1105.44,1249.2v-5.7M1130.5,1249.2v-2.8M1155.56,1249.2v-2.8M1180.62,1249.2v-2.8M1205.68,1249.2v-2.8M1230.74,1249.2v-2.8M505,1207.45h3.2M505,1165.2h6.5M505,1122.95h3.2M505,1080.7h6.5M505,1038.45h3.2M505,996.2h6.5M505,953.95h3.2M505,911.7h6.5M505,869.45h3.2M505,827.2h6.5M505,784.95h3.2" stroke="#111" stroke-width="1.6" fill="none"/>
<path d="M504.5,1249.2L506.88,1248.43L509.26,1247.68L511.65,1246.96L514.05,1246.25L516.45,1245.58L518.86,1244.94L521.28,1244.31L523.7,1243.71L526.13,1243.12L528.56,1242.54L530.99,1241.98L533.43,1241.44L535.87,1240.91L538.31,1240.39L540.76,1239.88L543.2,1239.37L545.65,1238.87L548.1,1238.36L550.54,1237.86L552.99,1237.36L555.43,1236.86L557.88,1236.36L560.33,1235.87L562.78,1235.37L565.22,1234.86L567.67,1234.35L570.11,1233.84L572.55,1233.32L574.99,1232.8L577.44,1232.27L579.88,1231.74L582.32,1231.21L584.75,1230.67L587.19,1230.12L589.62,1229.56L592.06,1229L594.49,1228.44L596.92,1227.87L599.35,1227.29L601.78,1226.71L604.21,1226.13L606.63,1225.54L609.06,1224.95L611.48,1224.35L613.91,1223.75L616.33,1223.14L618.75,1222.54L621.18,1221.93L623.6,1221.33L626.02,1220.72L628.44,1220.11L630.86,1219.5L633.29,1218.89L635.71,1218.28L638.13,1217.67L640.55,1217.06L642.97,1216.45L645.39,1215.85L647.82,1215.24L650.24,1214.64L652.66,1214.03L655.08,1213.41L657.5,1212.79L659.92,1212.16L662.33,1211.53L664.75,1210.89L667.16,1210.25L669.57,1209.6L671.98,1208.94L674.39,1208.28L676.79,1207.6L679.19,1206.92L681.59,1206.22L683.99,1205.53L686.39,1204.82L688.78,1204.12L691.18,1203.42L693.57,1202.71L695.97,1202.01L698.37,1201.3L700.76,1200.59L703.15,1199.88L705.55,1199.17L707.94,1198.46L710.33,1197.75L712.73,1197.04L715.12,1196.33L717.52,1195.62L719.91,1194.92L722.31,1194.21L724.71,1193.51L727.1,1192.81L729.5,1192.1L731.89,1191.39L734.28,1190.67L736.67,1189.95L739.06,1189.23L741.45,1188.5L743.84,1187.77L746.23,1187.04L748.62,1186.31L751,1185.56L753.38,1184.82L755.76,1184.06L758.14,1183.3L760.52,1182.54L762.89,1181.76L765.26,1180.98L767.63,1180.19L770,1179.4L772.37,1178.61L774.74,1177.81L777.1,1177.01L779.47,1176.21L781.83,1175.4L784.19,1174.59L786.55,1173.77L788.91,1172.95L791.27,1172.13L793.63,1171.31L795.98,1170.49L798.34,1169.67L800.7,1168.85L803.06,1168.03L805.42,1167.22L807.78,1166.4L810.14,1165.58L812.5,1164.77L814.86,1163.95L817.22,1163.13L819.58,1162.3L821.94,1161.49L824.3,1160.67L826.65,1159.85L829.01,1159.02L831.36,1158.18L833.71,1157.33L836.05,1156.47L838.39,1155.6L840.73,1154.72L843.06,1153.82L845.39,1152.92L847.72,1152.02L850.04,1151.1L852.36,1150.17L854.67,1149.23L856.99,1148.29L859.3,1147.35L861.61,1146.41L863.92,1145.46L866.24,1144.52L868.55,1143.57L870.85,1142.62L873.16,1141.66L875.47,1140.71L877.77,1139.74L880.07,1138.78L882.38,1137.81L884.68,1136.84L886.98,1135.87L889.28,1134.9L891.58,1133.93L893.88,1132.96L896.18,1131.99L898.48,1131.02L900.78,1130.04L903.08,1129.06L905.38,1128.08L907.67,1127.09L909.96,1126.1L912.24,1125.08L914.51,1124.04L916.77,1122.98L919.02,1121.9L921.27,1120.8L923.5,1119.69L925.73,1118.56L927.95,1117.41L930.15,1116.24L932.34,1115.05L934.53,1113.84L936.71,1112.62L938.89,1111.4L941.07,1110.18L943.24,1108.95L945.41,1107.71L947.58,1106.47L949.74,1105.22L951.89,1103.96L954.05,1102.7L956.2,1101.43L958.35,1100.15L960.49,1098.86L962.61,1097.55L964.72,1096.22L966.82,1094.87L968.91,1093.5L970.99,1092.11L973.06,1090.71L975.12,1089.3L977.16,1087.86L979.19,1086.41L981.21,1084.94L983.22,1083.45L985.22,1081.96L987.21,1080.45L989.19,1078.94L991.17,1077.41L993.13,1075.87L995.09,1074.32L997.04,1072.76L998.99,1071.19L1000.93,1069.62L1002.87,1068.05L1004.81,1066.48L1006.74,1064.9L1008.67,1063.31L1010.6,1061.72L1012.52,1060.13L1014.44,1058.53L1016.36,1056.93L1018.27,1055.33L1020.18,1053.72L1022.09,1052.11L1023.99,1050.49L1025.89,1048.87L1027.79,1047.25L1029.68,1045.62L1031.57,1043.99L1033.46,1042.35L1035.34,1040.71L1037.22,1039.06L1039.09,1037.41L1040.96,1035.76L1042.83,1034.1L1044.7,1032.45L1046.57,1030.79L1048.43,1029.12L1050.28,1027.45L1052.12,1025.76L1053.95,1024.06L1055.78,1022.36L1057.61,1020.65L1059.41,1018.93L1061.21,1017.19L1062.98,1015.43L1064.73,1013.65L1066.46,1011.86L1068.19,1010.05L1069.9,1008.22L1071.58,1006.37L1073.24,1004.51L1074.87,1002.62L1076.47,1000.71L1078.05,998.78L1079.61,996.82L1081.15,994.85L1082.66,992.86L1084.15,990.85L1085.61,988.83L1087.05,986.8L1088.46,984.74L1089.86,982.66L1091.23,980.57L1092.58,978.47L1093.92,976.36L1095.24,974.24L1096.54,972.12L1097.83,969.98L1099.1,967.82L1100.35,965.66L1101.6,963.49L1102.82,961.32L1104.04,959.14L1105.24,956.95L1106.43,954.75L1107.6,952.55L1108.77,950.34L1109.93,948.13L1111.09,945.92L1112.25,943.71L1113.41,941.5L1114.56,939.28L1115.71,937.06L1116.86,934.85L1118.01,932.63L1119.16,930.41L1120.32,928.2L1121.47,925.99L1122.62,923.77L1123.77,921.55L1124.92,919.33L1126.05,917.11L1127.17,914.88L1128.29,912.65L1129.41,910.41L1130.51,908.17L1131.61,905.93L1132.71,903.68L1133.79,901.43L1134.86,899.18L1135.92,896.92L1136.97,894.65L1138.01,892.38L1139.04,890.11L1140.07,887.83L1141.08,885.55L1142.09,883.27L1143.1,880.98L1144.1,878.69L1145.08,876.4L1146.07,874.1L1147.04,871.8L1148.01,869.5L1148.98,867.2L1149.94,864.9L1150.91,862.59L1151.87,860.29L1152.82,857.98L1153.77,855.67L1154.72,853.36L1155.66,851.05L1156.6,848.73L1157.53,846.42L1158.46,844.1L1159.39,841.78L1160.31,839.46L1161.22,837.13L1162.13,834.81L1163.04,832.48L1163.94,830.15L1164.83,827.82L1165.71,825.48L1166.59,823.15L1167.46,820.81L1168.33,818.47L1169.2,816.12L1170.06,813.78L1170.92,811.44L1171.78,809.09L1172.63,806.74L1173.48,804.39L1174.33,802.05L1175.18,799.7L1176.03,797.35L1176.89,795.01L1177.75,792.66L1178.61,790.32L1179.47,787.97L1180.34,785.63L1181.22,783.3L1182.11,780.96L1183,778.63L1183.9,776.3" stroke="#ff0000" stroke-width="1.35" fill="none" stroke-linejoin="round"/>
<path d="M504.5,1249.2L506.52,1247.73L508.55,1246.28L510.6,1244.86L512.67,1243.47L514.75,1242.11L516.86,1240.77L518.98,1239.46L521.11,1238.16L523.25,1236.88L525.4,1235.62L527.56,1234.37L529.73,1233.15L531.9,1231.93L534.09,1230.73L536.27,1229.52L538.46,1228.32L540.64,1227.12L542.83,1225.92L545.02,1224.73L547.21,1223.54L549.4,1222.35L551.59,1221.15L553.77,1219.95L555.96,1218.75L558.14,1217.54L560.32,1216.34L562.5,1215.13L564.68,1213.92L566.86,1212.7L569.04,1211.49L571.21,1210.27L573.39,1209.05L575.56,1207.83L577.74,1206.61L579.91,1205.39L582.09,1204.17L584.26,1202.95L586.43,1201.73L588.61,1200.51L590.78,1199.29L592.96,1198.07L595.14,1196.86L597.32,1195.65L599.5,1194.45L601.69,1193.24L603.87,1192.05L606.07,1190.86L608.26,1189.68L610.46,1188.51L612.67,1187.35L614.88,1186.19L617.1,1185.05L619.32,1183.92L621.54,1182.79L623.78,1181.69L626.02,1180.6L628.27,1179.52L630.52,1178.45L632.78,1177.4L635.05,1176.36L637.32,1175.34L639.6,1174.33L641.89,1173.34L644.18,1172.36L646.48,1171.39L648.79,1170.44L651.1,1169.5L653.41,1168.56L655.72,1167.62L658.03,1166.7L660.35,1165.78L662.67,1164.88L665,1163.97L667.32,1163.07L669.65,1162.17L671.97,1161.27L674.3,1160.36L676.62,1159.46L678.94,1158.55L681.27,1157.65L683.59,1156.74L685.91,1155.83L688.23,1154.93L690.56,1154.01L692.87,1153.1L695.19,1152.18L697.51,1151.26L699.83,1150.34L702.14,1149.42L704.46,1148.49L706.77,1147.56L709.08,1146.63L711.4,1145.69L713.71,1144.75L716.01,1143.81L718.32,1142.87L720.63,1141.92L722.93,1140.97L725.24,1140.02L727.54,1139.07L729.84,1138.11L732.14,1137.15L734.44,1136.18L736.74,1135.21L739.04,1134.24L741.33,1133.27L743.63,1132.29L745.92,1131.31L748.21,1130.33L750.5,1129.34L752.79,1128.35L755.07,1127.35L757.36,1126.35L759.64,1125.34L761.92,1124.33L764.2,1123.32L766.48,1122.31L768.75,1121.29L771.02,1120.26L773.29,1119.22L775.56,1118.18L777.82,1117.13L780.07,1116.07L782.32,1115L784.57,1113.92L786.82,1112.84L789.06,1111.74L791.3,1110.64L793.53,1109.53L795.76,1108.4L797.98,1107.27L800.19,1106.13L802.4,1104.97L804.6,1103.8L806.8,1102.62L808.99,1101.43L811.17,1100.23L813.35,1099.02L815.53,1097.8L817.7,1096.57L819.86,1095.34L822.02,1094.09L824.17,1092.83L826.32,1091.56L828.46,1090.28L830.6,1089L832.74,1087.72L834.88,1086.44L837.02,1085.16L839.15,1083.87L841.29,1082.58L843.42,1081.29L845.55,1080L847.69,1078.71L849.82,1077.42L851.96,1076.13L854.1,1074.85L856.23,1073.56L858.37,1072.28L860.51,1071L862.64,1069.71L864.78,1068.43L866.92,1067.15L869.06,1065.86L871.2,1064.58L873.33,1063.3L875.47,1062.02L877.61,1060.73L879.75,1059.45L881.89,1058.17L884.03,1056.89L886.16,1055.6L888.3,1054.32L890.44,1053.03L892.57,1051.74L894.71,1050.45L896.84,1049.16L898.96,1047.86L901.08,1046.55L903.2,1045.23L905.32,1043.91L907.43,1042.58L909.54,1041.25L911.64,1039.91L913.73,1038.55L915.82,1037.19L917.9,1035.82L919.97,1034.43L922.04,1033.04L924.11,1031.65L926.17,1030.24L928.23,1028.84L930.28,1027.42L932.33,1025.99L934.37,1024.56L936.41,1023.13L938.45,1021.69L940.49,1020.26L942.52,1018.82L944.55,1017.38L946.59,1015.93L948.62,1014.49L950.66,1013.06L952.71,1011.63L954.76,1010.22L956.82,1008.8L958.88,1007.4L960.94,1006L963.02,1004.62L965.1,1003.26L967.19,1001.9L969.29,1000.55L971.4,999.21L973.5,997.87L975.6,996.53L977.71,995.2L979.82,993.87L981.93,992.55L984.04,991.22L986.15,989.89L988.26,988.56L990.37,987.23L992.47,985.89L994.58,984.55L996.68,983.21L998.78,981.87L1000.88,980.52L1002.97,979.16L1005.05,977.8L1007.14,976.43L1009.22,975.06L1011.3,973.68L1013.38,972.3L1015.44,970.9L1017.5,969.5L1019.55,968.08L1021.59,966.65L1023.63,965.21L1025.67,963.76L1027.69,962.3L1029.69,960.81L1031.68,959.31L1033.64,957.78L1035.59,956.23L1037.53,954.66L1039.45,953.06L1041.35,951.44L1043.22,949.8L1045.07,948.12L1046.88,946.42L1048.68,944.68L1050.44,942.92L1052.18,941.13L1053.9,939.32L1055.58,937.49L1057.24,935.62L1058.87,933.73L1060.48,931.82L1062.06,929.9L1063.62,927.95L1065.15,925.98L1066.66,924L1068.15,922L1069.62,919.99L1071.08,917.96L1072.52,915.93L1073.94,913.88L1075.34,911.82L1076.74,909.75L1078.12,907.67L1079.5,905.59L1080.86,903.51L1082.22,901.42L1083.57,899.32L1084.9,897.21L1086.23,895.1L1087.55,892.99L1088.87,890.87L1090.18,888.75L1091.5,886.63L1092.8,884.51L1094.11,882.38L1095.4,880.25L1096.69,878.12L1097.98,875.99L1099.27,873.85L1100.55,871.71L1101.83,869.57L1103.1,867.43L1104.38,865.28L1105.65,863.14L1106.92,860.99L1108.18,858.84L1109.43,856.69L1110.68,854.53L1111.91,852.36L1113.14,850.19L1114.36,848.02L1115.58,845.84L1116.79,843.66L1117.98,841.47L1119.16,839.27L1120.32,837.07L1121.47,834.85L1122.6,832.63L1123.72,830.4L1124.83,828.17L1125.92,825.92L1126.99,823.67L1128.05,821.42L1129.09,819.15L1130.11,816.88L1131.12,814.6L1132.11,812.31L1133.1,810.02L1134.08,807.72L1135.05,805.43L1136.02,803.13L1136.97,800.83L1137.92,798.52L1138.87,796.22L1139.84,793.92L1140.82,791.63L1141.8,789.33L1142.8,787.05L1143.83,784.78L1144.9,782.53L1146.03,780.31L1147.2,778.1" stroke="#00ec00" stroke-width="1.35" fill="none" stroke-linejoin="round"/>
<path d="M504.5,1249.2L506.37,1247.54L508.27,1245.92L510.21,1244.35L512.18,1242.81L514.17,1241.29L516.17,1239.79L518.19,1238.31L520.21,1236.85L522.24,1235.39L524.28,1233.94L526.32,1232.5L528.37,1231.07L530.41,1229.63L532.45,1228.18L534.49,1226.73L536.52,1225.28L538.55,1223.82L540.56,1222.34L542.57,1220.85L544.56,1219.34L546.56,1217.84L548.56,1216.34L550.57,1214.85L552.57,1213.35L554.58,1211.86L556.59,1210.38L558.61,1208.91L560.63,1207.44L562.66,1205.98L564.69,1204.52L566.72,1203.06L568.75,1201.61L570.78,1200.15L572.82,1198.7L574.86,1197.26L576.9,1195.82L578.96,1194.39L581.01,1192.97L583.07,1191.56L585.14,1190.15L587.21,1188.75L589.29,1187.37L591.38,1185.99L593.47,1184.62L595.57,1183.27L597.68,1181.92L599.79,1180.58L601.91,1179.26L604.03,1177.94L606.16,1176.63L608.29,1175.33L610.43,1174.03L612.58,1172.75L614.73,1171.48L616.89,1170.22L619.05,1168.97L621.23,1167.75L623.41,1166.53L625.61,1165.33L627.81,1164.14L630.02,1162.97L632.23,1161.82L634.46,1160.68L636.7,1159.57L638.94,1158.47L641.2,1157.39L643.46,1156.33L645.73,1155.28L648.01,1154.25L650.29,1153.24L652.59,1152.25L654.89,1151.26L657.19,1150.29L659.49,1149.32L661.8,1148.37L664.11,1147.42L666.43,1146.48L668.75,1145.55L671.07,1144.62L673.39,1143.69L675.71,1142.76L678.03,1141.83L680.35,1140.91L682.68,1139.99L685,1139.07L687.33,1138.15L689.65,1137.23L691.98,1136.31L694.3,1135.4L696.63,1134.48L698.96,1133.57L701.28,1132.66L703.61,1131.75L705.94,1130.84L708.27,1129.93L710.6,1129.03L712.93,1128.13L715.26,1127.23L717.6,1126.34L719.93,1125.45L722.27,1124.56L724.61,1123.68L726.95,1122.8L729.29,1121.92L731.62,1121.03L733.96,1120.15L736.3,1119.27L738.64,1118.39L740.98,1117.52L743.32,1116.64L745.67,1115.77L748.01,1114.89L750.35,1114.02L752.69,1113.14L755.03,1112.26L757.37,1111.37L759.7,1110.49L762.04,1109.59L764.37,1108.7L766.71,1107.81L769.04,1106.91L771.37,1106.01L773.7,1105.11L776.03,1104.21L778.36,1103.3L780.69,1102.39L783.02,1101.48L785.35,1100.57L787.67,1099.66L790,1098.74L792.32,1097.82L794.65,1096.9L796.97,1095.97L799.29,1095.04L801.61,1094.11L803.93,1093.18L806.24,1092.24L808.56,1091.31L810.88,1090.36L813.19,1089.41L815.49,1088.44L817.79,1087.46L820.08,1086.47L822.37,1085.47L824.66,1084.46L826.94,1083.43L829.21,1082.38L831.47,1081.32L833.73,1080.24L835.97,1079.14L838.2,1078.01L840.42,1076.86L842.63,1075.7L844.84,1074.51L847.03,1073.32L849.21,1072.1L851.38,1070.87L853.55,1069.61L855.7,1068.34L857.85,1067.06L859.98,1065.76L862.11,1064.45L864.22,1063.11L866.32,1061.76L868.42,1060.39L870.51,1059.02L872.59,1057.64L874.68,1056.26L876.75,1054.87L878.81,1053.46L880.88,1052.05L882.94,1050.63L885,1049.23L887.08,1047.83L889.16,1046.44L891.23,1045.05L893.31,1043.67L895.4,1042.29L897.49,1040.92L899.58,1039.55L901.68,1038.2L903.79,1036.85L905.9,1035.52L908.02,1034.18L910.13,1032.86L912.25,1031.53L914.36,1030.19L916.48,1028.86L918.6,1027.54L920.72,1026.21L922.84,1024.89L924.95,1023.55L927.06,1022.21L929.17,1020.87L931.28,1019.53L933.38,1018.18L935.48,1016.82L937.58,1015.46L939.67,1014.09L941.75,1012.71L943.84,1011.33L945.91,1009.94L947.98,1008.54L950.05,1007.13L952.1,1005.7L954.15,1004.27L956.19,1002.82L958.22,1001.37L960.24,999.9L962.26,998.43L964.27,996.94L966.28,995.45L968.28,993.95L970.27,992.44L972.26,990.93L974.25,989.42L976.24,987.9L978.21,986.37L980.19,984.84L982.15,983.29L984.11,981.74L986.06,980.18L988.01,978.61L989.94,977.03L991.87,975.44L993.79,973.84L995.71,972.23L997.61,970.61L999.51,968.99L1001.4,967.35L1003.28,965.71L1005.16,964.06L1007.03,962.39L1008.88,960.72L1010.73,959.04L1012.57,957.35L1014.4,955.64L1016.22,953.93L1018.03,952.2L1019.83,950.47L1021.62,948.72L1023.39,946.97L1025.16,945.2L1026.92,943.42L1028.67,941.63L1030.4,939.83L1032.11,938.01L1033.81,936.18L1035.5,934.33L1037.17,932.47L1038.82,930.59L1040.45,928.7L1042.05,926.78L1043.64,924.85L1045.21,922.91L1046.76,920.94L1048.29,918.96L1049.8,916.97L1051.29,914.97L1052.76,912.95L1054.22,910.92L1055.66,908.87L1057.08,906.81L1058.48,904.74L1059.86,902.66L1061.22,900.57L1062.57,898.46L1063.9,896.34L1065.21,894.22L1066.51,892.08L1067.8,889.94L1069.07,887.79L1070.33,885.63L1071.56,883.46L1072.8,881.28L1074.03,879.1L1075.26,876.93L1076.51,874.76L1077.75,872.59L1078.98,870.42L1080.22,868.25L1081.47,866.08L1082.73,863.92L1084,861.77L1085.29,859.63L1086.59,857.5L1087.9,855.37L1089.22,853.24L1090.55,851.13L1091.88,849.01L1093.22,846.91L1094.58,844.8L1095.94,842.71L1097.31,840.62L1098.68,838.53L1100.07,836.45L1101.46,834.37L1102.86,832.3L1104.27,830.24L1105.69,828.18L1107.11,826.13L1108.55,824.08L1109.99,822.04L1111.44,820.01L1112.91,817.98L1114.38,815.96L1115.86,813.94L1117.34,811.93L1118.83,809.92L1120.32,807.92L1121.82,805.92L1123.33,803.93L1124.84,801.94L1126.35,799.94L1127.86,797.95L1129.37,795.96L1130.88,793.97L1132.39,791.98L1133.91,789.99L1135.43,788.01L1136.95,786.02L1138.48,784.04L1140.02,782.08L1141.59,780.14L1143.19,778.21L1144.8,776.3" stroke="#0000ff" stroke-width="1.35" fill="none" stroke-linejoin="round"/>
<path d="M504.5,1249.2L506.5,1247.66L508.55,1246.21L510.66,1244.9L512.83,1243.74L515.09,1242.7L517.4,1241.74L519.74,1240.84L522.1,1239.98L524.45,1239.15L526.81,1238.36L529.19,1237.61L531.58,1236.89L533.98,1236.18L536.37,1235.47L538.76,1234.74L541.15,1234.01L543.53,1233.28L545.92,1232.55L548.31,1231.83L550.7,1231.1L553.09,1230.38L555.47,1229.66L557.86,1228.94L560.25,1228.22L562.64,1227.51L565.03,1226.79L567.43,1226.07L569.82,1225.36L572.21,1224.66L574.61,1223.96L577.01,1223.27L579.4,1222.58L581.81,1221.9L584.21,1221.23L586.61,1220.56L589.02,1219.89L591.42,1219.23L593.83,1218.58L596.24,1217.94L598.66,1217.3L601.07,1216.67L603.49,1216.04L605.9,1215.43L608.32,1214.81L610.75,1214.21L613.17,1213.61L615.59,1213.03L618.02,1212.45L620.45,1211.89L622.88,1211.33L625.32,1210.78L627.75,1210.23L630.19,1209.68L632.62,1209.14L635.06,1208.6L637.5,1208.06L639.94,1207.53L642.37,1207L644.81,1206.47L647.25,1205.95L649.69,1205.42L652.13,1204.89L654.57,1204.35L657,1203.81L659.44,1203.26L661.87,1202.72L664.31,1202.17L666.74,1201.63L669.18,1201.08L671.62,1200.55L674.05,1200.01L676.49,1199.48L678.93,1198.95L681.37,1198.42L683.81,1197.89L686.25,1197.37L688.69,1196.86L691.13,1196.35L693.58,1195.85L696.03,1195.36L698.47,1194.87L700.92,1194.4L703.37,1193.92L705.82,1193.45L708.28,1192.99L710.73,1192.52L713.18,1192.06L715.63,1191.59L718.08,1191.13L720.54,1190.67L722.99,1190.22L725.44,1189.77L727.9,1189.31L730.35,1188.86L732.81,1188.4L735.26,1187.95L737.71,1187.48L740.16,1187.02L742.61,1186.55L745.07,1186.08L747.52,1185.62L749.97,1185.15L752.42,1184.67L754.87,1184.2L757.32,1183.73L759.77,1183.26L762.22,1182.79L764.67,1182.32L767.12,1181.85L769.57,1181.38L772.02,1180.9L774.47,1180.43L776.92,1179.95L779.37,1179.48L781.82,1179L784.27,1178.53L786.72,1178.06L789.17,1177.58L791.62,1177.11L794.07,1176.62L796.52,1176.13L798.96,1175.64L801.41,1175.13L803.85,1174.62L806.29,1174.1L808.73,1173.57L811.17,1173.04L813.6,1172.49L816.04,1171.94L818.47,1171.37L820.89,1170.79L823.31,1170.19L825.73,1169.57L828.15,1168.95L830.56,1168.32L832.98,1167.69L835.39,1167.06L837.81,1166.43L840.22,1165.78L842.63,1165.14L845.04,1164.5L847.45,1163.86L849.87,1163.24L852.29,1162.61L854.7,1161.99L857.12,1161.36L859.53,1160.72L861.93,1160.06L864.34,1159.39L866.75,1158.72L869.14,1158.03L871.53,1157.31L873.91,1156.57L876.29,1155.8L878.65,1155L881.01,1154.18L883.36,1153.33L885.7,1152.47L888.03,1151.58L890.35,1150.66L892.66,1149.71L894.96,1148.74L897.25,1147.74L899.53,1146.73L901.8,1145.71L904.07,1144.66L906.32,1143.58L908.57,1142.49L910.8,1141.38L913.03,1140.25L915.24,1139.11L917.45,1137.94L919.65,1136.76L921.83,1135.55L924.01,1134.33L926.18,1133.1L928.34,1131.86L930.5,1130.6L932.64,1129.32L934.78,1128.03L936.91,1126.73L939.03,1125.41L941.14,1124.08L943.24,1122.73L945.33,1121.37L947.41,1119.99L949.49,1118.61L951.56,1117.21L953.62,1115.81L955.67,1114.39L957.72,1112.96L959.76,1111.53L961.8,1110.08L963.84,1108.64L965.88,1107.21L967.92,1105.78L969.96,1104.34L972.01,1102.91L974.04,1101.46L976.06,1100L978.08,1098.53L980.09,1097.06L982.1,1095.57L984.1,1094.08L986.09,1092.56L988.05,1091.02L989.98,1089.45L991.9,1087.86L993.8,1086.23L995.67,1084.59L997.54,1082.92L999.38,1081.24L1001.21,1079.54L1003.02,1077.83L1004.81,1076.09L1006.59,1074.34L1008.35,1072.57L1010.1,1070.78L1011.83,1068.99L1013.56,1067.19L1015.27,1065.37L1016.97,1063.54L1018.66,1061.7L1020.32,1059.84L1021.97,1057.97L1023.6,1056.08L1025.21,1054.18L1026.8,1052.25L1028.37,1050.32L1029.93,1048.37L1031.48,1046.41L1033.02,1044.44L1034.53,1042.46L1036.04,1040.47L1037.52,1038.46L1039,1036.45L1040.47,1034.44L1041.95,1032.42L1043.43,1030.41L1044.9,1028.4L1046.37,1026.38L1047.84,1024.37L1049.31,1022.35L1050.79,1020.34L1052.26,1018.33L1053.75,1016.32L1055.24,1014.32L1056.73,1012.32L1058.22,1010.32L1059.72,1008.32L1061.22,1006.33L1062.73,1004.34L1064.24,1002.35L1065.76,1000.37L1067.28,998.39L1068.8,996.41L1070.33,994.44L1071.86,992.47L1073.4,990.51L1074.94,988.55L1076.49,986.59L1078.05,984.64L1079.61,982.7L1081.18,980.76L1082.76,978.82L1084.34,976.89L1085.92,974.96L1087.51,973.03L1089.1,971.11L1090.69,969.19L1092.3,967.28L1093.91,965.38L1095.52,963.47L1097.13,961.56L1098.73,959.65L1100.32,957.72L1101.89,955.79L1103.47,953.85L1105.04,951.91L1106.6,949.96L1108.14,947.99L1109.66,946.02L1111.15,944.02L1112.63,942.01L1114.08,939.98L1115.53,937.94L1116.95,935.89L1118.36,933.84L1119.76,931.77L1121.14,929.69L1122.51,927.61L1123.87,925.51L1125.21,923.41L1126.54,921.3L1127.87,919.18L1129.18,917.06L1130.49,914.94L1131.79,912.81L1133.08,910.67L1134.37,908.53L1135.64,906.38L1136.91,904.23L1138.17,902.08L1139.43,899.92L1140.68,897.76L1141.92,895.6L1143.15,893.43L1144.38,891.26L1145.61,889.09L1146.82,886.91L1148.04,884.73L1149.24,882.54L1150.44,880.35L1151.64,878.16L1152.83,875.97L1154.01,873.77L1155.19,871.57L1156.36,869.37L1157.52,867.16L1158.68,864.95L1159.83,862.73L1160.96,860.51L1162.09,858.29L1163.22,856.06L1164.33,853.82L1165.44,851.59L1166.55,849.35L1167.65,847.11L1168.74,844.87L1169.82,842.62L1170.9,840.37L1171.97,838.12L1173.05,835.87L1174.13,833.62L1175.22,831.37L1176.31,829.12L1177.39,826.88L1178.48,824.63L1179.58,822.39L1180.68,820.15L1181.8,817.92L1182.92,815.69L1184.06,813.47L1185.21,811.26L1186.37,809.05L1187.54,806.84L1188.71,804.64L1189.89,802.44L1191.08,800.25L1192.28,798.06L1193.49,795.88L1194.71,793.7L1195.93,791.52L1197.15,789.34L1198.37,787.17L1199.59,784.99L1200.81,782.81L1202.04,780.64L1203.27,778.47L1204.5,776.3" stroke="#000000" stroke-width="1.35" fill="none" stroke-linejoin="round"/>
<rect x="504" y="743" width="751.8" height="507.2" fill="none" stroke="#111" stroke-width="2"/>
<text x="496.5" y="1255.2" font-size="25" text-anchor="end" font-weight="normal" fill="#474747" >0</text>
<text x="496.5" y="1170.7" font-size="25" text-anchor="end" font-weight="normal" fill="#474747" >5</text>
<text x="496.5" y="1086.2" font-size="25" text-anchor="end" font-weight="normal" fill="#474747" >10</text>
<text x="496.5" y="1001.7" font-size="25" text-anchor="end" font-weight="normal" fill="#474747" >15</text>
<text x="496.5" y="917.2" font-size="25" text-anchor="end" font-weight="normal" fill="#474747" >20</text>
<text x="496.5" y="832.7" font-size="25" text-anchor="end" font-weight="normal" fill="#474747" >25</text>
<text x="496.5" y="748.2" font-size="25" text-anchor="end" font-weight="normal" fill="#474747" >30</text>
<text x="654.36" y="1274.5" font-size="25" text-anchor="middle" font-weight="normal" fill="#474747" >0.1</text>
<text x="804.72" y="1274.5" font-size="25" text-anchor="middle" font-weight="normal" fill="#474747" >0.2</text>
<text x="955.08" y="1274.5" font-size="25" text-anchor="middle" font-weight="normal" fill="#474747" >0.3</text>
<text x="1105.44" y="1274.5" font-size="25" text-anchor="middle" font-weight="normal" fill="#474747" >0.4</text>
<text x="1255.8" y="1274.5" font-size="25" text-anchor="middle" font-weight="normal" fill="#474747" >0.5</text>
<text x="835.3" y="1297.9" font-size="29.5" text-anchor="start" font-weight="normal" fill="#111" textLength="74.2" lengthAdjust="spacingAndGlyphs">Strain</text>
<text transform="translate(463,1013) rotate(-90)" font-size="26.5" fill="#111" textLength="69.8" lengthAdjust="spacingAndGlyphs">σ/MPa</text>
<text x="539.5" y="1062.8" font-size="26.5" text-anchor="start" font-weight="normal" fill="#3a3636" textLength="71.2" lengthAdjust="spacingAndGlyphs">Linear</text>
<text x="541.4" y="1100.6" font-size="26.5" text-anchor="start" font-weight="normal" fill="#3a3636" textLength="76.8" lengthAdjust="spacingAndGlyphs">growth</text>
<text x="733.8" y="936.9" font-size="28" text-anchor="start" font-weight="normal" fill="#222" textLength="153.9" lengthAdjust="spacingAndGlyphs">Rapid growth</text>
<text x="1044.6" y="1176.3" font-size="28" text-anchor="start" font-weight="normal" fill="#222" textLength="143.3" lengthAdjust="spacingAndGlyphs">Slow growth</text>
<line x1="505" y1="1118" x2="655" y2="1118" stroke="#000" stroke-width="2.2"/>
<polygon points="508,1118 512,1114.2 521,1114.2 521,1122.2 512,1122.2" fill="#000"/>
<polygon points="652,1118 648,1114.2 639,1114.2 639,1122.2 648,1122.2" fill="#000"/>
<line x1="655.5" y1="950.3" x2="954" y2="950.3" stroke="#000" stroke-width="2.2"/>
<polygon points="658.5,950.3 662.5,946.5 671.5,946.5 671.5,954.5 662.5,954.5" fill="#000"/>
<polygon points="951,950.3 947,946.5 938,946.5 938,954.5 947,954.5" fill="#000"/>
<line x1="955.5" y1="1190.5" x2="1255" y2="1190.5" stroke="#000" stroke-width="2.2"/>
<polygon points="958.5,1190.5 962.5,1186.7 971.5,1186.7 971.5,1194.7 962.5,1194.7" fill="#000"/>
<polygon points="1252,1190.5 1248,1186.7 1239,1186.7 1239,1194.7 1248,1194.7" fill="#000"/>
<line x1="498.5" y1="1320.5" x2="541.2" y2="1320.5" stroke="#ff0000" stroke-width="2.2"/>
<text x="541.2" y="1327" font-size="23" text-anchor="start" font-weight="normal" fill="#111" textLength="109.5" lengthAdjust="spacingAndGlyphs" stroke="#111" stroke-width="0.3">Tetrahedron</text>
<line x1="672.5" y1="1320.5" x2="715.8" y2="1320.5" stroke="#000000" stroke-width="2.2"/>
<text x="717.3" y="1327" font-size="23" text-anchor="start" font-weight="normal" fill="#111" textLength="110.5" lengthAdjust="spacingAndGlyphs" stroke="#111" stroke-width="0.3">Pentahedron</text>
<line x1="850.2" y1="1320.5" x2="895.1" y2="1320.5" stroke="#0000ff" stroke-width="2.2"/>
<text x="895.1" y="1327" font-size="23" text-anchor="start" font-weight="normal" fill="#111" textLength="109.3" lengthAdjust="spacingAndGlyphs" stroke="#111" stroke-width="0.3">Hexahedron</text>
<line x1="1025.9" y1="1320.5" x2="1071" y2="1320.5" stroke="#00ff00" stroke-width="2.2"/>
<text x="1069.7" y="1327" font-size="23" text-anchor="start" font-weight="normal" fill="#111" textLength="185.4" lengthAdjust="spacingAndGlyphs" stroke="#111" stroke-width="0.3">Irregular polyhedron</text>
<text x="613.3" y="1413.4" font-size="48" text-anchor="start" font-weight="normal" fill="#000" textLength="492" lengthAdjust="spacingAndGlyphs">(c) 15-20 mm size group</text>
</g>
</svg></body></html>
